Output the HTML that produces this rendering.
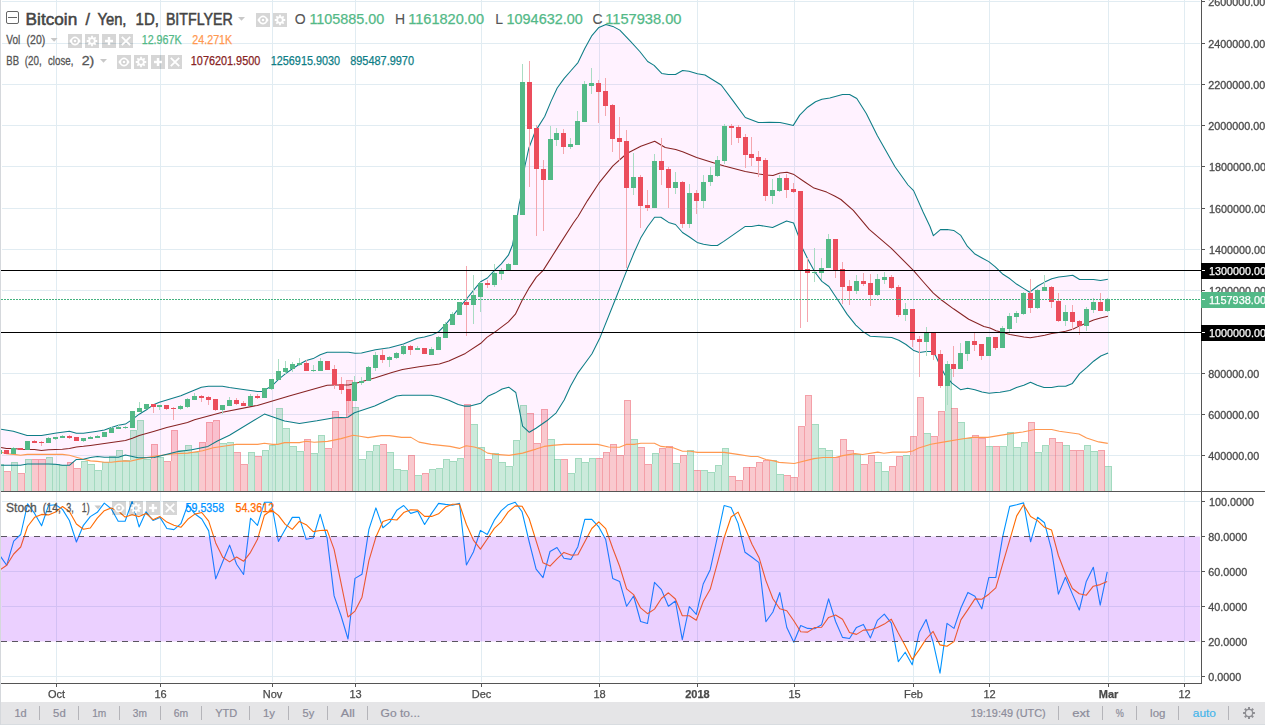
<!DOCTYPE html>
<html><head><meta charset="utf-8"><title>BTCJPY chart</title>
<style>html,body{margin:0;padding:0;background:#fff}body{width:1265px;height:725px;overflow:hidden;font-family:"Liberation Sans",sans-serif}svg{display:block}</style></head>
<body>
<svg width="1265" height="725" viewBox="0 0 1265 725" font-family="Liberation Sans, sans-serif">
<rect x="0" y="0" width="1265" height="725" fill="#ffffff"/>
<g fill="#e1ecf2" shape-rendering="crispEdges">
<rect x="2" y="1" width="1198" height="1"/>
<rect x="2" y="43" width="1198" height="1"/>
<rect x="2" y="84" width="1198" height="1"/>
<rect x="2" y="125" width="1198" height="1"/>
<rect x="2" y="166" width="1198" height="1"/>
<rect x="2" y="208" width="1198" height="1"/>
<rect x="2" y="249" width="1198" height="1"/>
<rect x="2" y="290" width="1198" height="1"/>
<rect x="2" y="332" width="1198" height="1"/>
<rect x="2" y="373" width="1198" height="1"/>
<rect x="2" y="414" width="1198" height="1"/>
<rect x="2" y="455" width="1198" height="1"/>
<rect x="2" y="501" width="1198" height="1"/>
<rect x="2" y="571" width="1198" height="1"/>
<rect x="2" y="606" width="1198" height="1"/>
<rect x="2" y="676" width="1198" height="1"/>
<rect x="56" y="0" width="1" height="491"/>
<rect x="56" y="492" width="1" height="190"/>
<rect x="160" y="0" width="1" height="491"/>
<rect x="160" y="492" width="1" height="190"/>
<rect x="272" y="0" width="1" height="491"/>
<rect x="272" y="492" width="1" height="190"/>
<rect x="355" y="0" width="1" height="491"/>
<rect x="355" y="492" width="1" height="190"/>
<rect x="481" y="0" width="1" height="491"/>
<rect x="481" y="492" width="1" height="190"/>
<rect x="599" y="0" width="1" height="491"/>
<rect x="599" y="492" width="1" height="190"/>
<rect x="697" y="0" width="1" height="491"/>
<rect x="697" y="492" width="1" height="190"/>
<rect x="794" y="0" width="1" height="491"/>
<rect x="794" y="492" width="1" height="190"/>
<rect x="913" y="0" width="1" height="491"/>
<rect x="913" y="492" width="1" height="190"/>
<rect x="989" y="0" width="1" height="491"/>
<rect x="989" y="492" width="1" height="190"/>
<rect x="1108" y="0" width="1" height="491"/>
<rect x="1108" y="492" width="1" height="190"/>
<rect x="1184" y="0" width="1" height="491"/>
<rect x="1184" y="492" width="1" height="190"/>
</g>
<polygon fill="#ff00ff" fill-opacity="0.052" points="1.1,429.3 13.3,431.2 27.1,435.4 41.5,435.4 56.4,433.0 69.4,431.3 76.4,433.2 83.4,433.2 97.4,431.2 104.4,430.1 111.3,427.4 118.4,425.2 125.4,424.1 132.4,419.4 139.2,414.2 146.5,409.8 153.5,404.7 159.4,402.2 180.8,395.8 194.7,390.1 201.4,387.2 208.4,386.3 222.4,386.3 229.4,387.6 243.3,389.5 257.3,391.4 262.0,391.4 271.5,386.3 278.5,379.3 285.3,373.9 292.4,368.8 299.3,364.3 306.3,360.5 313.2,358.6 320.2,354.8 327.2,352.3 348.5,352.3 355.1,353.3 361.5,352.9 375.4,349.7 389.4,347.8 403.4,344.0 417.4,338.3 424.4,337.1 431.7,335.1 438.7,331.7 445.6,324.7 452.6,316.1 459.6,307.2 466.5,299.0 473.5,290.4 480.6,281.8 487.4,278.0 494.5,270.4 501.3,263.8 508.4,255.2 512.6,244.7 516.4,222.8 519.2,203.8 520.2,200.0 524.8,166.5 528.8,148.3 535.1,131.7 537.5,127.9 544.7,116.5 551.0,101.4 557.2,88.0 564.2,78.4 571.1,70.5 578.0,62.6 584.9,48.3 591.9,35.6 598.9,27.4 605.9,24.5 612.9,26.4 619.8,30.1 630.3,41.2 639.8,51.5 647.7,61.5 654.1,65.4 661.7,73.4 668.4,74.5 675.5,74.5 682.6,70.5 689.0,71.3 697.4,73.7 705.0,75.0 721.2,85.0 733.1,100.9 745.3,117.5 758.4,122.6 769.5,122.3 780.0,122.6 787.0,123.9 793.3,125.4 799.7,115.1 807.6,107.2 815.5,101.7 821.9,99.3 829.8,98.0 842.5,94.5 849.6,94.5 856.8,98.5 866.3,113.5 877.4,135.8 895.0,166.7 908.0,185.0 913.6,190.6 923.1,212.0 930.0,226.5 933.4,235.7 940.4,229.6 947.2,229.6 953.7,230.4 960.8,235.4 967.3,246.2 974.5,253.7 981.6,257.7 988.8,261.6 995.3,266.8 998.4,269.8 1003.0,274.3 1010.0,278.8 1016.9,284.3 1023.9,288.6 1029.7,292.2 1037.8,286.0 1044.7,282.1 1051.8,278.8 1058.7,277.1 1065.6,276.2 1072.7,275.2 1079.6,279.5 1086.5,279.5 1093.6,279.5 1100.5,280.4 1107.9,279.3 1108.1,353.1 1100.8,356.0 1093.6,361.2 1086.9,367.4 1079.6,373.6 1072.4,383.4 1065.7,386.3 1058.4,386.3 1051.7,387.4 1044.0,387.4 1037.2,385.2 1030.5,382.2 1023.8,385.2 1016.5,387.6 1009.8,390.4 1000.0,392.2 996.0,392.6 989.1,393.3 982.0,392.1 974.9,389.7 967.7,388.3 960.5,389.7 951.9,383.2 944.7,374.6 940.3,366.0 935.4,355.3 931.1,351.4 926.4,351.4 919.4,352.4 913.2,350.2 906.0,344.5 898.8,340.2 891.7,337.6 870.2,336.2 863.0,331.6 855.8,325.1 847.2,314.4 837.5,299.5 828.9,286.5 821.9,281.4 815.0,272.2 808.0,259.5 802.6,248.4 797.8,234.2 793.6,223.0 786.6,221.1 779.6,224.3 772.6,227.4 758.7,225.3 751.7,226.4 745.3,226.4 723.8,241.4 717.4,245.5 711.1,245.5 703.5,244.3 697.1,242.4 689.5,237.0 682.5,232.5 675.5,224.5 668.6,222.4 660.9,217.3 654.6,217.3 647.6,226.8 640.7,238.1 633.8,253.3 626.8,270.4 615.3,299.5 600.1,337.4 592.0,353.8 584.5,364.0 577.6,373.4 570.6,386.0 564.2,400.0 556.2,412.8 546.8,420.8 536.0,428.2 529.3,432.3 522.6,426.2 520.5,415.6 515.8,392.5 508.7,387.2 502.1,389.0 495.0,393.1 487.9,396.3 480.8,403.2 470.1,406.1 464.2,406.1 458.3,404.4 448.8,400.2 439.3,396.9 431.0,395.2 402.5,395.2 396.6,396.1 387.1,400.2 374.7,406.0 354.5,412.8 347.8,417.2 334.4,417.7 316.9,420.8 299.4,423.5 284.6,421.1 264.4,414.1 229.5,435.2 217.4,441.0 208.0,446.4 191.8,449.7 177.0,451.7 164.9,454.8 154.2,457.4 138.1,457.8 132.4,456.4 125.4,455.1 118.4,457.3 104.4,457.3 97.4,456.4 90.4,457.5 83.4,459.2 76.4,459.4 69.4,465.3 62.4,465.3 55.4,464.2 48.5,464.0 27.4,464.0 20.5,465.3 1.1,465.3"/>
<g shape-rendering="crispEdges">
<rect x="1" y="464" width="3" height="27" fill="#53b987" fill-opacity="0.3"/>
<rect x="1" y="464" width="3" height="1" fill="#53b987" fill-opacity="0.33"/>
<rect x="3" y="465" width="1" height="26" fill="#53b987" fill-opacity="0.33"/>
<rect x="4" y="471" width="7" height="20" fill="#eb4d5c" fill-opacity="0.3"/>
<rect x="4" y="471" width="7" height="1" fill="#eb4d5c" fill-opacity="0.33"/>
<rect x="10" y="472" width="1" height="19" fill="#eb4d5c" fill-opacity="0.33"/>
<rect x="11" y="462" width="7" height="29" fill="#53b987" fill-opacity="0.3"/>
<rect x="11" y="462" width="7" height="1" fill="#53b987" fill-opacity="0.33"/>
<rect x="17" y="463" width="1" height="28" fill="#53b987" fill-opacity="0.33"/>
<rect x="11" y="463" width="1" height="8" fill="#53b987" fill-opacity="0.33"/>
<rect x="18" y="473" width="7" height="18" fill="#eb4d5c" fill-opacity="0.3"/>
<rect x="18" y="473" width="7" height="1" fill="#eb4d5c" fill-opacity="0.33"/>
<rect x="24" y="474" width="1" height="17" fill="#eb4d5c" fill-opacity="0.33"/>
<rect x="25" y="459" width="7" height="32" fill="#53b987" fill-opacity="0.3"/>
<rect x="25" y="459" width="7" height="1" fill="#53b987" fill-opacity="0.33"/>
<rect x="31" y="460" width="1" height="31" fill="#53b987" fill-opacity="0.33"/>
<rect x="25" y="460" width="1" height="13" fill="#53b987" fill-opacity="0.33"/>
<rect x="32" y="459" width="7" height="32" fill="#eb4d5c" fill-opacity="0.3"/>
<rect x="32" y="459" width="7" height="1" fill="#eb4d5c" fill-opacity="0.33"/>
<rect x="38" y="460" width="1" height="31" fill="#eb4d5c" fill-opacity="0.33"/>
<rect x="39" y="459" width="7" height="32" fill="#eb4d5c" fill-opacity="0.3"/>
<rect x="39" y="459" width="7" height="1" fill="#eb4d5c" fill-opacity="0.33"/>
<rect x="45" y="460" width="1" height="31" fill="#eb4d5c" fill-opacity="0.33"/>
<rect x="46" y="457" width="7" height="34" fill="#53b987" fill-opacity="0.3"/>
<rect x="46" y="457" width="7" height="1" fill="#53b987" fill-opacity="0.33"/>
<rect x="52" y="458" width="1" height="33" fill="#53b987" fill-opacity="0.33"/>
<rect x="46" y="458" width="1" height="1" fill="#53b987" fill-opacity="0.33"/>
<rect x="53" y="464" width="7" height="27" fill="#53b987" fill-opacity="0.3"/>
<rect x="53" y="464" width="7" height="1" fill="#53b987" fill-opacity="0.33"/>
<rect x="59" y="465" width="1" height="26" fill="#53b987" fill-opacity="0.33"/>
<rect x="60" y="465" width="7" height="26" fill="#53b987" fill-opacity="0.3"/>
<rect x="60" y="465" width="7" height="1" fill="#53b987" fill-opacity="0.33"/>
<rect x="66" y="466" width="1" height="25" fill="#53b987" fill-opacity="0.33"/>
<rect x="67" y="462" width="7" height="29" fill="#eb4d5c" fill-opacity="0.3"/>
<rect x="67" y="462" width="7" height="1" fill="#eb4d5c" fill-opacity="0.33"/>
<rect x="73" y="463" width="1" height="28" fill="#eb4d5c" fill-opacity="0.33"/>
<rect x="67" y="463" width="1" height="2" fill="#eb4d5c" fill-opacity="0.33"/>
<rect x="74" y="468" width="7" height="23" fill="#eb4d5c" fill-opacity="0.3"/>
<rect x="74" y="468" width="7" height="1" fill="#eb4d5c" fill-opacity="0.33"/>
<rect x="80" y="469" width="1" height="22" fill="#eb4d5c" fill-opacity="0.33"/>
<rect x="81" y="461" width="7" height="30" fill="#53b987" fill-opacity="0.3"/>
<rect x="81" y="461" width="7" height="1" fill="#53b987" fill-opacity="0.33"/>
<rect x="87" y="462" width="1" height="29" fill="#53b987" fill-opacity="0.33"/>
<rect x="81" y="462" width="1" height="6" fill="#53b987" fill-opacity="0.33"/>
<rect x="88" y="464" width="7" height="27" fill="#53b987" fill-opacity="0.3"/>
<rect x="88" y="464" width="7" height="1" fill="#53b987" fill-opacity="0.33"/>
<rect x="94" y="465" width="1" height="26" fill="#53b987" fill-opacity="0.33"/>
<rect x="95" y="470" width="7" height="21" fill="#53b987" fill-opacity="0.3"/>
<rect x="95" y="470" width="7" height="1" fill="#53b987" fill-opacity="0.33"/>
<rect x="101" y="471" width="1" height="20" fill="#53b987" fill-opacity="0.33"/>
<rect x="102" y="462" width="7" height="29" fill="#53b987" fill-opacity="0.3"/>
<rect x="102" y="462" width="7" height="1" fill="#53b987" fill-opacity="0.33"/>
<rect x="108" y="463" width="1" height="28" fill="#53b987" fill-opacity="0.33"/>
<rect x="102" y="463" width="1" height="7" fill="#53b987" fill-opacity="0.33"/>
<rect x="109" y="456" width="7" height="35" fill="#53b987" fill-opacity="0.3"/>
<rect x="109" y="456" width="7" height="1" fill="#53b987" fill-opacity="0.33"/>
<rect x="115" y="457" width="1" height="34" fill="#53b987" fill-opacity="0.33"/>
<rect x="109" y="457" width="1" height="5" fill="#53b987" fill-opacity="0.33"/>
<rect x="116" y="450" width="7" height="41" fill="#53b987" fill-opacity="0.3"/>
<rect x="116" y="450" width="7" height="1" fill="#53b987" fill-opacity="0.33"/>
<rect x="122" y="451" width="1" height="40" fill="#53b987" fill-opacity="0.33"/>
<rect x="116" y="451" width="1" height="5" fill="#53b987" fill-opacity="0.33"/>
<rect x="123" y="460" width="7" height="31" fill="#53b987" fill-opacity="0.3"/>
<rect x="123" y="460" width="7" height="1" fill="#53b987" fill-opacity="0.33"/>
<rect x="129" y="461" width="1" height="30" fill="#53b987" fill-opacity="0.33"/>
<rect x="130" y="430" width="7" height="61" fill="#53b987" fill-opacity="0.3"/>
<rect x="130" y="430" width="7" height="1" fill="#53b987" fill-opacity="0.33"/>
<rect x="136" y="431" width="1" height="60" fill="#53b987" fill-opacity="0.33"/>
<rect x="130" y="431" width="1" height="29" fill="#53b987" fill-opacity="0.33"/>
<rect x="137" y="420" width="7" height="71" fill="#53b987" fill-opacity="0.3"/>
<rect x="137" y="420" width="7" height="1" fill="#53b987" fill-opacity="0.33"/>
<rect x="143" y="421" width="1" height="70" fill="#53b987" fill-opacity="0.33"/>
<rect x="137" y="421" width="1" height="9" fill="#53b987" fill-opacity="0.33"/>
<rect x="144" y="459" width="7" height="32" fill="#53b987" fill-opacity="0.3"/>
<rect x="144" y="459" width="7" height="1" fill="#53b987" fill-opacity="0.33"/>
<rect x="150" y="460" width="1" height="31" fill="#53b987" fill-opacity="0.33"/>
<rect x="151" y="444" width="7" height="47" fill="#eb4d5c" fill-opacity="0.3"/>
<rect x="151" y="444" width="7" height="1" fill="#eb4d5c" fill-opacity="0.33"/>
<rect x="157" y="445" width="1" height="46" fill="#eb4d5c" fill-opacity="0.33"/>
<rect x="151" y="445" width="1" height="14" fill="#eb4d5c" fill-opacity="0.33"/>
<rect x="157" y="457" width="7" height="34" fill="#53b987" fill-opacity="0.3"/>
<rect x="157" y="457" width="7" height="1" fill="#53b987" fill-opacity="0.33"/>
<rect x="163" y="458" width="1" height="33" fill="#53b987" fill-opacity="0.33"/>
<rect x="164" y="461" width="7" height="30" fill="#eb4d5c" fill-opacity="0.3"/>
<rect x="164" y="461" width="7" height="1" fill="#eb4d5c" fill-opacity="0.33"/>
<rect x="170" y="462" width="1" height="29" fill="#eb4d5c" fill-opacity="0.33"/>
<rect x="171" y="430" width="7" height="61" fill="#eb4d5c" fill-opacity="0.3"/>
<rect x="171" y="430" width="7" height="1" fill="#eb4d5c" fill-opacity="0.33"/>
<rect x="177" y="431" width="1" height="60" fill="#eb4d5c" fill-opacity="0.33"/>
<rect x="171" y="431" width="1" height="30" fill="#eb4d5c" fill-opacity="0.33"/>
<rect x="178" y="450" width="7" height="41" fill="#53b987" fill-opacity="0.3"/>
<rect x="178" y="450" width="7" height="1" fill="#53b987" fill-opacity="0.33"/>
<rect x="184" y="451" width="1" height="40" fill="#53b987" fill-opacity="0.33"/>
<rect x="185" y="445" width="7" height="46" fill="#53b987" fill-opacity="0.3"/>
<rect x="185" y="445" width="7" height="1" fill="#53b987" fill-opacity="0.33"/>
<rect x="191" y="446" width="1" height="45" fill="#53b987" fill-opacity="0.33"/>
<rect x="185" y="446" width="1" height="4" fill="#53b987" fill-opacity="0.33"/>
<rect x="192" y="452" width="7" height="39" fill="#53b987" fill-opacity="0.3"/>
<rect x="192" y="452" width="7" height="1" fill="#53b987" fill-opacity="0.33"/>
<rect x="198" y="453" width="1" height="38" fill="#53b987" fill-opacity="0.33"/>
<rect x="199" y="442" width="7" height="49" fill="#eb4d5c" fill-opacity="0.3"/>
<rect x="199" y="442" width="7" height="1" fill="#eb4d5c" fill-opacity="0.33"/>
<rect x="205" y="443" width="1" height="48" fill="#eb4d5c" fill-opacity="0.33"/>
<rect x="199" y="443" width="1" height="9" fill="#eb4d5c" fill-opacity="0.33"/>
<rect x="206" y="422" width="7" height="69" fill="#eb4d5c" fill-opacity="0.3"/>
<rect x="206" y="422" width="7" height="1" fill="#eb4d5c" fill-opacity="0.33"/>
<rect x="212" y="423" width="1" height="68" fill="#eb4d5c" fill-opacity="0.33"/>
<rect x="206" y="423" width="1" height="19" fill="#eb4d5c" fill-opacity="0.33"/>
<rect x="213" y="420" width="7" height="71" fill="#eb4d5c" fill-opacity="0.3"/>
<rect x="213" y="420" width="7" height="1" fill="#eb4d5c" fill-opacity="0.33"/>
<rect x="219" y="421" width="1" height="70" fill="#eb4d5c" fill-opacity="0.33"/>
<rect x="213" y="421" width="1" height="1" fill="#eb4d5c" fill-opacity="0.33"/>
<rect x="220" y="443" width="7" height="48" fill="#53b987" fill-opacity="0.3"/>
<rect x="220" y="443" width="7" height="1" fill="#53b987" fill-opacity="0.33"/>
<rect x="226" y="444" width="1" height="47" fill="#53b987" fill-opacity="0.33"/>
<rect x="227" y="442" width="7" height="49" fill="#53b987" fill-opacity="0.3"/>
<rect x="227" y="442" width="7" height="1" fill="#53b987" fill-opacity="0.33"/>
<rect x="233" y="443" width="1" height="48" fill="#53b987" fill-opacity="0.33"/>
<rect x="234" y="452" width="7" height="39" fill="#eb4d5c" fill-opacity="0.3"/>
<rect x="234" y="452" width="7" height="1" fill="#eb4d5c" fill-opacity="0.33"/>
<rect x="240" y="453" width="1" height="38" fill="#eb4d5c" fill-opacity="0.33"/>
<rect x="241" y="464" width="7" height="27" fill="#eb4d5c" fill-opacity="0.3"/>
<rect x="241" y="464" width="7" height="1" fill="#eb4d5c" fill-opacity="0.33"/>
<rect x="247" y="465" width="1" height="26" fill="#eb4d5c" fill-opacity="0.33"/>
<rect x="248" y="452" width="7" height="39" fill="#53b987" fill-opacity="0.3"/>
<rect x="248" y="452" width="7" height="1" fill="#53b987" fill-opacity="0.33"/>
<rect x="254" y="453" width="1" height="38" fill="#53b987" fill-opacity="0.33"/>
<rect x="248" y="453" width="1" height="11" fill="#53b987" fill-opacity="0.33"/>
<rect x="255" y="456" width="7" height="35" fill="#eb4d5c" fill-opacity="0.3"/>
<rect x="255" y="456" width="7" height="1" fill="#eb4d5c" fill-opacity="0.33"/>
<rect x="261" y="457" width="1" height="34" fill="#eb4d5c" fill-opacity="0.33"/>
<rect x="262" y="450" width="7" height="41" fill="#53b987" fill-opacity="0.3"/>
<rect x="262" y="450" width="7" height="1" fill="#53b987" fill-opacity="0.33"/>
<rect x="268" y="451" width="1" height="40" fill="#53b987" fill-opacity="0.33"/>
<rect x="262" y="451" width="1" height="5" fill="#53b987" fill-opacity="0.33"/>
<rect x="269" y="445" width="7" height="46" fill="#53b987" fill-opacity="0.3"/>
<rect x="269" y="445" width="7" height="1" fill="#53b987" fill-opacity="0.33"/>
<rect x="275" y="446" width="1" height="45" fill="#53b987" fill-opacity="0.33"/>
<rect x="269" y="446" width="1" height="4" fill="#53b987" fill-opacity="0.33"/>
<rect x="276" y="408" width="7" height="83" fill="#53b987" fill-opacity="0.3"/>
<rect x="276" y="408" width="7" height="1" fill="#53b987" fill-opacity="0.33"/>
<rect x="282" y="409" width="1" height="82" fill="#53b987" fill-opacity="0.33"/>
<rect x="276" y="409" width="1" height="36" fill="#53b987" fill-opacity="0.33"/>
<rect x="283" y="428" width="7" height="63" fill="#53b987" fill-opacity="0.3"/>
<rect x="283" y="428" width="7" height="1" fill="#53b987" fill-opacity="0.33"/>
<rect x="289" y="429" width="1" height="62" fill="#53b987" fill-opacity="0.33"/>
<rect x="290" y="446" width="7" height="45" fill="#53b987" fill-opacity="0.3"/>
<rect x="290" y="446" width="7" height="1" fill="#53b987" fill-opacity="0.33"/>
<rect x="296" y="447" width="1" height="44" fill="#53b987" fill-opacity="0.33"/>
<rect x="297" y="451" width="7" height="40" fill="#53b987" fill-opacity="0.3"/>
<rect x="297" y="451" width="7" height="1" fill="#53b987" fill-opacity="0.33"/>
<rect x="303" y="452" width="1" height="39" fill="#53b987" fill-opacity="0.33"/>
<rect x="304" y="439" width="7" height="52" fill="#eb4d5c" fill-opacity="0.3"/>
<rect x="304" y="439" width="7" height="1" fill="#eb4d5c" fill-opacity="0.33"/>
<rect x="310" y="440" width="1" height="51" fill="#eb4d5c" fill-opacity="0.33"/>
<rect x="304" y="440" width="1" height="11" fill="#eb4d5c" fill-opacity="0.33"/>
<rect x="311" y="453" width="7" height="38" fill="#53b987" fill-opacity="0.3"/>
<rect x="311" y="453" width="7" height="1" fill="#53b987" fill-opacity="0.33"/>
<rect x="317" y="454" width="1" height="37" fill="#53b987" fill-opacity="0.33"/>
<rect x="318" y="435" width="7" height="56" fill="#53b987" fill-opacity="0.3"/>
<rect x="318" y="435" width="7" height="1" fill="#53b987" fill-opacity="0.33"/>
<rect x="324" y="436" width="1" height="55" fill="#53b987" fill-opacity="0.33"/>
<rect x="318" y="436" width="1" height="17" fill="#53b987" fill-opacity="0.33"/>
<rect x="325" y="448" width="7" height="43" fill="#eb4d5c" fill-opacity="0.3"/>
<rect x="325" y="448" width="7" height="1" fill="#eb4d5c" fill-opacity="0.33"/>
<rect x="331" y="449" width="1" height="42" fill="#eb4d5c" fill-opacity="0.33"/>
<rect x="332" y="411" width="7" height="80" fill="#eb4d5c" fill-opacity="0.3"/>
<rect x="332" y="411" width="7" height="1" fill="#eb4d5c" fill-opacity="0.33"/>
<rect x="338" y="412" width="1" height="79" fill="#eb4d5c" fill-opacity="0.33"/>
<rect x="332" y="412" width="1" height="36" fill="#eb4d5c" fill-opacity="0.33"/>
<rect x="339" y="418" width="7" height="73" fill="#eb4d5c" fill-opacity="0.3"/>
<rect x="339" y="418" width="7" height="1" fill="#eb4d5c" fill-opacity="0.33"/>
<rect x="345" y="419" width="1" height="72" fill="#eb4d5c" fill-opacity="0.33"/>
<rect x="346" y="380" width="7" height="111" fill="#eb4d5c" fill-opacity="0.3"/>
<rect x="346" y="380" width="7" height="1" fill="#eb4d5c" fill-opacity="0.33"/>
<rect x="352" y="381" width="1" height="110" fill="#eb4d5c" fill-opacity="0.33"/>
<rect x="346" y="381" width="1" height="37" fill="#eb4d5c" fill-opacity="0.33"/>
<rect x="352" y="407" width="7" height="84" fill="#53b987" fill-opacity="0.3"/>
<rect x="352" y="407" width="7" height="1" fill="#53b987" fill-opacity="0.33"/>
<rect x="358" y="408" width="1" height="83" fill="#53b987" fill-opacity="0.33"/>
<rect x="359" y="459" width="7" height="32" fill="#53b987" fill-opacity="0.3"/>
<rect x="359" y="459" width="7" height="1" fill="#53b987" fill-opacity="0.33"/>
<rect x="365" y="460" width="1" height="31" fill="#53b987" fill-opacity="0.33"/>
<rect x="366" y="451" width="7" height="40" fill="#53b987" fill-opacity="0.3"/>
<rect x="366" y="451" width="7" height="1" fill="#53b987" fill-opacity="0.33"/>
<rect x="372" y="452" width="1" height="39" fill="#53b987" fill-opacity="0.33"/>
<rect x="366" y="452" width="1" height="7" fill="#53b987" fill-opacity="0.33"/>
<rect x="373" y="445" width="7" height="46" fill="#53b987" fill-opacity="0.3"/>
<rect x="373" y="445" width="7" height="1" fill="#53b987" fill-opacity="0.33"/>
<rect x="379" y="446" width="1" height="45" fill="#53b987" fill-opacity="0.33"/>
<rect x="373" y="446" width="1" height="5" fill="#53b987" fill-opacity="0.33"/>
<rect x="380" y="444" width="7" height="47" fill="#eb4d5c" fill-opacity="0.3"/>
<rect x="380" y="444" width="7" height="1" fill="#eb4d5c" fill-opacity="0.33"/>
<rect x="386" y="445" width="1" height="46" fill="#eb4d5c" fill-opacity="0.33"/>
<rect x="387" y="452" width="7" height="39" fill="#53b987" fill-opacity="0.3"/>
<rect x="387" y="452" width="7" height="1" fill="#53b987" fill-opacity="0.33"/>
<rect x="393" y="453" width="1" height="38" fill="#53b987" fill-opacity="0.33"/>
<rect x="394" y="469" width="7" height="22" fill="#53b987" fill-opacity="0.3"/>
<rect x="394" y="469" width="7" height="1" fill="#53b987" fill-opacity="0.33"/>
<rect x="400" y="470" width="1" height="21" fill="#53b987" fill-opacity="0.33"/>
<rect x="401" y="470" width="7" height="21" fill="#53b987" fill-opacity="0.3"/>
<rect x="401" y="470" width="7" height="1" fill="#53b987" fill-opacity="0.33"/>
<rect x="407" y="471" width="1" height="20" fill="#53b987" fill-opacity="0.33"/>
<rect x="408" y="455" width="7" height="36" fill="#eb4d5c" fill-opacity="0.3"/>
<rect x="408" y="455" width="7" height="1" fill="#eb4d5c" fill-opacity="0.33"/>
<rect x="414" y="456" width="1" height="35" fill="#eb4d5c" fill-opacity="0.33"/>
<rect x="408" y="456" width="1" height="14" fill="#eb4d5c" fill-opacity="0.33"/>
<rect x="415" y="475" width="7" height="16" fill="#53b987" fill-opacity="0.3"/>
<rect x="415" y="475" width="7" height="1" fill="#53b987" fill-opacity="0.33"/>
<rect x="421" y="476" width="1" height="15" fill="#53b987" fill-opacity="0.33"/>
<rect x="422" y="473" width="7" height="18" fill="#eb4d5c" fill-opacity="0.3"/>
<rect x="422" y="473" width="7" height="1" fill="#eb4d5c" fill-opacity="0.33"/>
<rect x="428" y="474" width="1" height="17" fill="#eb4d5c" fill-opacity="0.33"/>
<rect x="422" y="474" width="1" height="1" fill="#eb4d5c" fill-opacity="0.33"/>
<rect x="429" y="469" width="7" height="22" fill="#53b987" fill-opacity="0.3"/>
<rect x="429" y="469" width="7" height="1" fill="#53b987" fill-opacity="0.33"/>
<rect x="435" y="470" width="1" height="21" fill="#53b987" fill-opacity="0.33"/>
<rect x="429" y="470" width="1" height="3" fill="#53b987" fill-opacity="0.33"/>
<rect x="436" y="468" width="7" height="23" fill="#53b987" fill-opacity="0.3"/>
<rect x="436" y="468" width="7" height="1" fill="#53b987" fill-opacity="0.33"/>
<rect x="442" y="469" width="1" height="22" fill="#53b987" fill-opacity="0.33"/>
<rect x="443" y="459" width="7" height="32" fill="#53b987" fill-opacity="0.3"/>
<rect x="443" y="459" width="7" height="1" fill="#53b987" fill-opacity="0.33"/>
<rect x="449" y="460" width="1" height="31" fill="#53b987" fill-opacity="0.33"/>
<rect x="443" y="460" width="1" height="8" fill="#53b987" fill-opacity="0.33"/>
<rect x="450" y="461" width="7" height="30" fill="#53b987" fill-opacity="0.3"/>
<rect x="450" y="461" width="7" height="1" fill="#53b987" fill-opacity="0.33"/>
<rect x="456" y="462" width="1" height="29" fill="#53b987" fill-opacity="0.33"/>
<rect x="457" y="458" width="7" height="33" fill="#53b987" fill-opacity="0.3"/>
<rect x="457" y="458" width="7" height="1" fill="#53b987" fill-opacity="0.33"/>
<rect x="463" y="459" width="1" height="32" fill="#53b987" fill-opacity="0.33"/>
<rect x="457" y="459" width="1" height="2" fill="#53b987" fill-opacity="0.33"/>
<rect x="464" y="404" width="7" height="87" fill="#eb4d5c" fill-opacity="0.3"/>
<rect x="464" y="404" width="7" height="1" fill="#eb4d5c" fill-opacity="0.33"/>
<rect x="470" y="405" width="1" height="86" fill="#eb4d5c" fill-opacity="0.33"/>
<rect x="464" y="405" width="1" height="53" fill="#eb4d5c" fill-opacity="0.33"/>
<rect x="471" y="424" width="7" height="67" fill="#53b987" fill-opacity="0.3"/>
<rect x="471" y="424" width="7" height="1" fill="#53b987" fill-opacity="0.33"/>
<rect x="477" y="425" width="1" height="66" fill="#53b987" fill-opacity="0.33"/>
<rect x="478" y="447" width="7" height="44" fill="#53b987" fill-opacity="0.3"/>
<rect x="478" y="447" width="7" height="1" fill="#53b987" fill-opacity="0.33"/>
<rect x="484" y="448" width="1" height="43" fill="#53b987" fill-opacity="0.33"/>
<rect x="485" y="459" width="7" height="32" fill="#eb4d5c" fill-opacity="0.3"/>
<rect x="485" y="459" width="7" height="1" fill="#eb4d5c" fill-opacity="0.33"/>
<rect x="491" y="460" width="1" height="31" fill="#eb4d5c" fill-opacity="0.33"/>
<rect x="492" y="453" width="7" height="38" fill="#53b987" fill-opacity="0.3"/>
<rect x="492" y="453" width="7" height="1" fill="#53b987" fill-opacity="0.33"/>
<rect x="498" y="454" width="1" height="37" fill="#53b987" fill-opacity="0.33"/>
<rect x="492" y="454" width="1" height="5" fill="#53b987" fill-opacity="0.33"/>
<rect x="499" y="462" width="7" height="29" fill="#53b987" fill-opacity="0.3"/>
<rect x="499" y="462" width="7" height="1" fill="#53b987" fill-opacity="0.33"/>
<rect x="505" y="463" width="1" height="28" fill="#53b987" fill-opacity="0.33"/>
<rect x="506" y="466" width="7" height="25" fill="#53b987" fill-opacity="0.3"/>
<rect x="506" y="466" width="7" height="1" fill="#53b987" fill-opacity="0.33"/>
<rect x="512" y="467" width="1" height="24" fill="#53b987" fill-opacity="0.33"/>
<rect x="513" y="440" width="7" height="51" fill="#53b987" fill-opacity="0.3"/>
<rect x="513" y="440" width="7" height="1" fill="#53b987" fill-opacity="0.33"/>
<rect x="519" y="441" width="1" height="50" fill="#53b987" fill-opacity="0.33"/>
<rect x="513" y="441" width="1" height="25" fill="#53b987" fill-opacity="0.33"/>
<rect x="520" y="405" width="7" height="86" fill="#53b987" fill-opacity="0.3"/>
<rect x="520" y="405" width="7" height="1" fill="#53b987" fill-opacity="0.33"/>
<rect x="526" y="406" width="1" height="85" fill="#53b987" fill-opacity="0.33"/>
<rect x="520" y="406" width="1" height="34" fill="#53b987" fill-opacity="0.33"/>
<rect x="527" y="413" width="7" height="78" fill="#eb4d5c" fill-opacity="0.3"/>
<rect x="527" y="413" width="7" height="1" fill="#eb4d5c" fill-opacity="0.33"/>
<rect x="533" y="414" width="1" height="77" fill="#eb4d5c" fill-opacity="0.33"/>
<rect x="534" y="443" width="7" height="48" fill="#eb4d5c" fill-opacity="0.3"/>
<rect x="534" y="443" width="7" height="1" fill="#eb4d5c" fill-opacity="0.33"/>
<rect x="540" y="444" width="1" height="47" fill="#eb4d5c" fill-opacity="0.33"/>
<rect x="541" y="409" width="7" height="82" fill="#eb4d5c" fill-opacity="0.3"/>
<rect x="541" y="409" width="7" height="1" fill="#eb4d5c" fill-opacity="0.33"/>
<rect x="547" y="410" width="1" height="81" fill="#eb4d5c" fill-opacity="0.33"/>
<rect x="541" y="410" width="1" height="33" fill="#eb4d5c" fill-opacity="0.33"/>
<rect x="548" y="439" width="7" height="52" fill="#53b987" fill-opacity="0.3"/>
<rect x="548" y="439" width="7" height="1" fill="#53b987" fill-opacity="0.33"/>
<rect x="554" y="440" width="1" height="51" fill="#53b987" fill-opacity="0.33"/>
<rect x="554" y="459" width="7" height="32" fill="#53b987" fill-opacity="0.3"/>
<rect x="554" y="459" width="7" height="1" fill="#53b987" fill-opacity="0.33"/>
<rect x="560" y="460" width="1" height="31" fill="#53b987" fill-opacity="0.33"/>
<rect x="561" y="459" width="7" height="32" fill="#eb4d5c" fill-opacity="0.3"/>
<rect x="561" y="459" width="7" height="1" fill="#eb4d5c" fill-opacity="0.33"/>
<rect x="567" y="460" width="1" height="31" fill="#eb4d5c" fill-opacity="0.33"/>
<rect x="568" y="473" width="7" height="18" fill="#53b987" fill-opacity="0.3"/>
<rect x="568" y="473" width="7" height="1" fill="#53b987" fill-opacity="0.33"/>
<rect x="574" y="474" width="1" height="17" fill="#53b987" fill-opacity="0.33"/>
<rect x="575" y="458" width="7" height="33" fill="#53b987" fill-opacity="0.3"/>
<rect x="575" y="458" width="7" height="1" fill="#53b987" fill-opacity="0.33"/>
<rect x="581" y="459" width="1" height="32" fill="#53b987" fill-opacity="0.33"/>
<rect x="575" y="459" width="1" height="14" fill="#53b987" fill-opacity="0.33"/>
<rect x="582" y="462" width="7" height="29" fill="#53b987" fill-opacity="0.3"/>
<rect x="582" y="462" width="7" height="1" fill="#53b987" fill-opacity="0.33"/>
<rect x="588" y="463" width="1" height="28" fill="#53b987" fill-opacity="0.33"/>
<rect x="589" y="458" width="7" height="33" fill="#53b987" fill-opacity="0.3"/>
<rect x="589" y="458" width="7" height="1" fill="#53b987" fill-opacity="0.33"/>
<rect x="595" y="459" width="1" height="32" fill="#53b987" fill-opacity="0.33"/>
<rect x="589" y="459" width="1" height="3" fill="#53b987" fill-opacity="0.33"/>
<rect x="596" y="458" width="7" height="33" fill="#eb4d5c" fill-opacity="0.3"/>
<rect x="596" y="458" width="7" height="1" fill="#eb4d5c" fill-opacity="0.33"/>
<rect x="602" y="459" width="1" height="32" fill="#eb4d5c" fill-opacity="0.33"/>
<rect x="603" y="452" width="7" height="39" fill="#eb4d5c" fill-opacity="0.3"/>
<rect x="603" y="452" width="7" height="1" fill="#eb4d5c" fill-opacity="0.33"/>
<rect x="609" y="453" width="1" height="38" fill="#eb4d5c" fill-opacity="0.33"/>
<rect x="603" y="453" width="1" height="5" fill="#eb4d5c" fill-opacity="0.33"/>
<rect x="610" y="444" width="7" height="47" fill="#eb4d5c" fill-opacity="0.3"/>
<rect x="610" y="444" width="7" height="1" fill="#eb4d5c" fill-opacity="0.33"/>
<rect x="616" y="445" width="1" height="46" fill="#eb4d5c" fill-opacity="0.33"/>
<rect x="610" y="445" width="1" height="7" fill="#eb4d5c" fill-opacity="0.33"/>
<rect x="617" y="455" width="7" height="36" fill="#eb4d5c" fill-opacity="0.3"/>
<rect x="617" y="455" width="7" height="1" fill="#eb4d5c" fill-opacity="0.33"/>
<rect x="623" y="456" width="1" height="35" fill="#eb4d5c" fill-opacity="0.33"/>
<rect x="624" y="400" width="7" height="91" fill="#eb4d5c" fill-opacity="0.3"/>
<rect x="624" y="400" width="7" height="1" fill="#eb4d5c" fill-opacity="0.33"/>
<rect x="630" y="401" width="1" height="90" fill="#eb4d5c" fill-opacity="0.33"/>
<rect x="624" y="401" width="1" height="54" fill="#eb4d5c" fill-opacity="0.33"/>
<rect x="631" y="439" width="7" height="52" fill="#53b987" fill-opacity="0.3"/>
<rect x="631" y="439" width="7" height="1" fill="#53b987" fill-opacity="0.33"/>
<rect x="637" y="440" width="1" height="51" fill="#53b987" fill-opacity="0.33"/>
<rect x="638" y="447" width="7" height="44" fill="#eb4d5c" fill-opacity="0.3"/>
<rect x="638" y="447" width="7" height="1" fill="#eb4d5c" fill-opacity="0.33"/>
<rect x="644" y="448" width="1" height="43" fill="#eb4d5c" fill-opacity="0.33"/>
<rect x="645" y="464" width="7" height="27" fill="#eb4d5c" fill-opacity="0.3"/>
<rect x="645" y="464" width="7" height="1" fill="#eb4d5c" fill-opacity="0.33"/>
<rect x="651" y="465" width="1" height="26" fill="#eb4d5c" fill-opacity="0.33"/>
<rect x="652" y="453" width="7" height="38" fill="#53b987" fill-opacity="0.3"/>
<rect x="652" y="453" width="7" height="1" fill="#53b987" fill-opacity="0.33"/>
<rect x="658" y="454" width="1" height="37" fill="#53b987" fill-opacity="0.33"/>
<rect x="652" y="454" width="1" height="10" fill="#53b987" fill-opacity="0.33"/>
<rect x="659" y="448" width="7" height="43" fill="#eb4d5c" fill-opacity="0.3"/>
<rect x="659" y="448" width="7" height="1" fill="#eb4d5c" fill-opacity="0.33"/>
<rect x="665" y="449" width="1" height="42" fill="#eb4d5c" fill-opacity="0.33"/>
<rect x="659" y="449" width="1" height="4" fill="#eb4d5c" fill-opacity="0.33"/>
<rect x="666" y="446" width="7" height="45" fill="#eb4d5c" fill-opacity="0.3"/>
<rect x="666" y="446" width="7" height="1" fill="#eb4d5c" fill-opacity="0.33"/>
<rect x="672" y="447" width="1" height="44" fill="#eb4d5c" fill-opacity="0.33"/>
<rect x="666" y="447" width="1" height="1" fill="#eb4d5c" fill-opacity="0.33"/>
<rect x="673" y="463" width="7" height="28" fill="#53b987" fill-opacity="0.3"/>
<rect x="673" y="463" width="7" height="1" fill="#53b987" fill-opacity="0.33"/>
<rect x="679" y="464" width="1" height="27" fill="#53b987" fill-opacity="0.33"/>
<rect x="680" y="455" width="7" height="36" fill="#eb4d5c" fill-opacity="0.3"/>
<rect x="680" y="455" width="7" height="1" fill="#eb4d5c" fill-opacity="0.33"/>
<rect x="686" y="456" width="1" height="35" fill="#eb4d5c" fill-opacity="0.33"/>
<rect x="680" y="456" width="1" height="7" fill="#eb4d5c" fill-opacity="0.33"/>
<rect x="687" y="450" width="7" height="41" fill="#53b987" fill-opacity="0.3"/>
<rect x="687" y="450" width="7" height="1" fill="#53b987" fill-opacity="0.33"/>
<rect x="693" y="451" width="1" height="40" fill="#53b987" fill-opacity="0.33"/>
<rect x="687" y="451" width="1" height="4" fill="#53b987" fill-opacity="0.33"/>
<rect x="694" y="470" width="7" height="21" fill="#eb4d5c" fill-opacity="0.3"/>
<rect x="694" y="470" width="7" height="1" fill="#eb4d5c" fill-opacity="0.33"/>
<rect x="700" y="471" width="1" height="20" fill="#eb4d5c" fill-opacity="0.33"/>
<rect x="701" y="470" width="7" height="21" fill="#53b987" fill-opacity="0.3"/>
<rect x="701" y="470" width="7" height="1" fill="#53b987" fill-opacity="0.33"/>
<rect x="707" y="471" width="1" height="20" fill="#53b987" fill-opacity="0.33"/>
<rect x="708" y="472" width="7" height="19" fill="#53b987" fill-opacity="0.3"/>
<rect x="708" y="472" width="7" height="1" fill="#53b987" fill-opacity="0.33"/>
<rect x="714" y="473" width="1" height="18" fill="#53b987" fill-opacity="0.33"/>
<rect x="715" y="465" width="7" height="26" fill="#53b987" fill-opacity="0.3"/>
<rect x="715" y="465" width="7" height="1" fill="#53b987" fill-opacity="0.33"/>
<rect x="721" y="466" width="1" height="25" fill="#53b987" fill-opacity="0.33"/>
<rect x="715" y="466" width="1" height="6" fill="#53b987" fill-opacity="0.33"/>
<rect x="722" y="448" width="7" height="43" fill="#53b987" fill-opacity="0.3"/>
<rect x="722" y="448" width="7" height="1" fill="#53b987" fill-opacity="0.33"/>
<rect x="728" y="449" width="1" height="42" fill="#53b987" fill-opacity="0.33"/>
<rect x="722" y="449" width="1" height="16" fill="#53b987" fill-opacity="0.33"/>
<rect x="729" y="476" width="7" height="15" fill="#eb4d5c" fill-opacity="0.3"/>
<rect x="729" y="476" width="7" height="1" fill="#eb4d5c" fill-opacity="0.33"/>
<rect x="735" y="477" width="1" height="14" fill="#eb4d5c" fill-opacity="0.33"/>
<rect x="736" y="480" width="7" height="11" fill="#eb4d5c" fill-opacity="0.3"/>
<rect x="736" y="480" width="7" height="1" fill="#eb4d5c" fill-opacity="0.33"/>
<rect x="742" y="481" width="1" height="10" fill="#eb4d5c" fill-opacity="0.33"/>
<rect x="743" y="467" width="7" height="24" fill="#eb4d5c" fill-opacity="0.3"/>
<rect x="743" y="467" width="7" height="1" fill="#eb4d5c" fill-opacity="0.33"/>
<rect x="749" y="468" width="1" height="23" fill="#eb4d5c" fill-opacity="0.33"/>
<rect x="743" y="468" width="1" height="12" fill="#eb4d5c" fill-opacity="0.33"/>
<rect x="749" y="467" width="7" height="24" fill="#eb4d5c" fill-opacity="0.3"/>
<rect x="749" y="467" width="7" height="1" fill="#eb4d5c" fill-opacity="0.33"/>
<rect x="755" y="468" width="1" height="23" fill="#eb4d5c" fill-opacity="0.33"/>
<rect x="756" y="462" width="7" height="29" fill="#eb4d5c" fill-opacity="0.3"/>
<rect x="756" y="462" width="7" height="1" fill="#eb4d5c" fill-opacity="0.33"/>
<rect x="762" y="463" width="1" height="28" fill="#eb4d5c" fill-opacity="0.33"/>
<rect x="756" y="463" width="1" height="4" fill="#eb4d5c" fill-opacity="0.33"/>
<rect x="763" y="460" width="7" height="31" fill="#eb4d5c" fill-opacity="0.3"/>
<rect x="763" y="460" width="7" height="1" fill="#eb4d5c" fill-opacity="0.33"/>
<rect x="769" y="461" width="1" height="30" fill="#eb4d5c" fill-opacity="0.33"/>
<rect x="763" y="461" width="1" height="1" fill="#eb4d5c" fill-opacity="0.33"/>
<rect x="770" y="460" width="7" height="31" fill="#53b987" fill-opacity="0.3"/>
<rect x="770" y="460" width="7" height="1" fill="#53b987" fill-opacity="0.33"/>
<rect x="776" y="461" width="1" height="30" fill="#53b987" fill-opacity="0.33"/>
<rect x="777" y="474" width="7" height="17" fill="#53b987" fill-opacity="0.3"/>
<rect x="777" y="474" width="7" height="1" fill="#53b987" fill-opacity="0.33"/>
<rect x="783" y="475" width="1" height="16" fill="#53b987" fill-opacity="0.33"/>
<rect x="784" y="475" width="7" height="16" fill="#eb4d5c" fill-opacity="0.3"/>
<rect x="784" y="475" width="7" height="1" fill="#eb4d5c" fill-opacity="0.33"/>
<rect x="790" y="476" width="1" height="15" fill="#eb4d5c" fill-opacity="0.33"/>
<rect x="791" y="477" width="7" height="14" fill="#eb4d5c" fill-opacity="0.3"/>
<rect x="791" y="477" width="7" height="1" fill="#eb4d5c" fill-opacity="0.33"/>
<rect x="797" y="478" width="1" height="13" fill="#eb4d5c" fill-opacity="0.33"/>
<rect x="798" y="426" width="7" height="65" fill="#eb4d5c" fill-opacity="0.3"/>
<rect x="798" y="426" width="7" height="1" fill="#eb4d5c" fill-opacity="0.33"/>
<rect x="804" y="427" width="1" height="64" fill="#eb4d5c" fill-opacity="0.33"/>
<rect x="798" y="427" width="1" height="50" fill="#eb4d5c" fill-opacity="0.33"/>
<rect x="805" y="395" width="7" height="96" fill="#eb4d5c" fill-opacity="0.3"/>
<rect x="805" y="395" width="7" height="1" fill="#eb4d5c" fill-opacity="0.33"/>
<rect x="811" y="396" width="1" height="95" fill="#eb4d5c" fill-opacity="0.33"/>
<rect x="805" y="396" width="1" height="30" fill="#eb4d5c" fill-opacity="0.33"/>
<rect x="812" y="424" width="7" height="67" fill="#53b987" fill-opacity="0.3"/>
<rect x="812" y="424" width="7" height="1" fill="#53b987" fill-opacity="0.33"/>
<rect x="818" y="425" width="1" height="66" fill="#53b987" fill-opacity="0.33"/>
<rect x="819" y="448" width="7" height="43" fill="#53b987" fill-opacity="0.3"/>
<rect x="819" y="448" width="7" height="1" fill="#53b987" fill-opacity="0.33"/>
<rect x="825" y="449" width="1" height="42" fill="#53b987" fill-opacity="0.33"/>
<rect x="826" y="450" width="7" height="41" fill="#53b987" fill-opacity="0.3"/>
<rect x="826" y="450" width="7" height="1" fill="#53b987" fill-opacity="0.33"/>
<rect x="832" y="451" width="1" height="40" fill="#53b987" fill-opacity="0.33"/>
<rect x="833" y="457" width="7" height="34" fill="#eb4d5c" fill-opacity="0.3"/>
<rect x="833" y="457" width="7" height="1" fill="#eb4d5c" fill-opacity="0.33"/>
<rect x="839" y="458" width="1" height="33" fill="#eb4d5c" fill-opacity="0.33"/>
<rect x="840" y="439" width="7" height="52" fill="#eb4d5c" fill-opacity="0.3"/>
<rect x="840" y="439" width="7" height="1" fill="#eb4d5c" fill-opacity="0.33"/>
<rect x="846" y="440" width="1" height="51" fill="#eb4d5c" fill-opacity="0.33"/>
<rect x="840" y="440" width="1" height="17" fill="#eb4d5c" fill-opacity="0.33"/>
<rect x="847" y="450" width="7" height="41" fill="#eb4d5c" fill-opacity="0.3"/>
<rect x="847" y="450" width="7" height="1" fill="#eb4d5c" fill-opacity="0.33"/>
<rect x="853" y="451" width="1" height="40" fill="#eb4d5c" fill-opacity="0.33"/>
<rect x="854" y="454" width="7" height="37" fill="#53b987" fill-opacity="0.3"/>
<rect x="854" y="454" width="7" height="1" fill="#53b987" fill-opacity="0.33"/>
<rect x="860" y="455" width="1" height="36" fill="#53b987" fill-opacity="0.33"/>
<rect x="861" y="464" width="7" height="27" fill="#eb4d5c" fill-opacity="0.3"/>
<rect x="861" y="464" width="7" height="1" fill="#eb4d5c" fill-opacity="0.33"/>
<rect x="867" y="465" width="1" height="26" fill="#eb4d5c" fill-opacity="0.33"/>
<rect x="868" y="455" width="7" height="36" fill="#eb4d5c" fill-opacity="0.3"/>
<rect x="868" y="455" width="7" height="1" fill="#eb4d5c" fill-opacity="0.33"/>
<rect x="874" y="456" width="1" height="35" fill="#eb4d5c" fill-opacity="0.33"/>
<rect x="868" y="456" width="1" height="8" fill="#eb4d5c" fill-opacity="0.33"/>
<rect x="875" y="462" width="7" height="29" fill="#53b987" fill-opacity="0.3"/>
<rect x="875" y="462" width="7" height="1" fill="#53b987" fill-opacity="0.33"/>
<rect x="881" y="463" width="1" height="28" fill="#53b987" fill-opacity="0.33"/>
<rect x="882" y="471" width="7" height="20" fill="#53b987" fill-opacity="0.3"/>
<rect x="882" y="471" width="7" height="1" fill="#53b987" fill-opacity="0.33"/>
<rect x="888" y="472" width="1" height="19" fill="#53b987" fill-opacity="0.33"/>
<rect x="889" y="466" width="7" height="25" fill="#eb4d5c" fill-opacity="0.3"/>
<rect x="889" y="466" width="7" height="1" fill="#eb4d5c" fill-opacity="0.33"/>
<rect x="895" y="467" width="1" height="24" fill="#eb4d5c" fill-opacity="0.33"/>
<rect x="889" y="467" width="1" height="4" fill="#eb4d5c" fill-opacity="0.33"/>
<rect x="896" y="456" width="7" height="35" fill="#eb4d5c" fill-opacity="0.3"/>
<rect x="896" y="456" width="7" height="1" fill="#eb4d5c" fill-opacity="0.33"/>
<rect x="902" y="457" width="1" height="34" fill="#eb4d5c" fill-opacity="0.33"/>
<rect x="896" y="457" width="1" height="9" fill="#eb4d5c" fill-opacity="0.33"/>
<rect x="903" y="455" width="7" height="36" fill="#53b987" fill-opacity="0.3"/>
<rect x="903" y="455" width="7" height="1" fill="#53b987" fill-opacity="0.33"/>
<rect x="909" y="456" width="1" height="35" fill="#53b987" fill-opacity="0.33"/>
<rect x="910" y="436" width="7" height="55" fill="#eb4d5c" fill-opacity="0.3"/>
<rect x="910" y="436" width="7" height="1" fill="#eb4d5c" fill-opacity="0.33"/>
<rect x="916" y="437" width="1" height="54" fill="#eb4d5c" fill-opacity="0.33"/>
<rect x="910" y="437" width="1" height="18" fill="#eb4d5c" fill-opacity="0.33"/>
<rect x="917" y="397" width="7" height="94" fill="#eb4d5c" fill-opacity="0.3"/>
<rect x="917" y="397" width="7" height="1" fill="#eb4d5c" fill-opacity="0.33"/>
<rect x="923" y="398" width="1" height="93" fill="#eb4d5c" fill-opacity="0.33"/>
<rect x="917" y="398" width="1" height="38" fill="#eb4d5c" fill-opacity="0.33"/>
<rect x="924" y="433" width="7" height="58" fill="#53b987" fill-opacity="0.3"/>
<rect x="924" y="433" width="7" height="1" fill="#53b987" fill-opacity="0.33"/>
<rect x="930" y="434" width="1" height="57" fill="#53b987" fill-opacity="0.33"/>
<rect x="931" y="436" width="7" height="55" fill="#eb4d5c" fill-opacity="0.3"/>
<rect x="931" y="436" width="7" height="1" fill="#eb4d5c" fill-opacity="0.33"/>
<rect x="937" y="437" width="1" height="54" fill="#eb4d5c" fill-opacity="0.33"/>
<rect x="938" y="411" width="7" height="80" fill="#eb4d5c" fill-opacity="0.3"/>
<rect x="938" y="411" width="7" height="1" fill="#eb4d5c" fill-opacity="0.33"/>
<rect x="944" y="412" width="1" height="79" fill="#eb4d5c" fill-opacity="0.33"/>
<rect x="938" y="412" width="1" height="24" fill="#eb4d5c" fill-opacity="0.33"/>
<rect x="945" y="369" width="7" height="122" fill="#53b987" fill-opacity="0.3"/>
<rect x="945" y="369" width="7" height="1" fill="#53b987" fill-opacity="0.33"/>
<rect x="951" y="370" width="1" height="121" fill="#53b987" fill-opacity="0.33"/>
<rect x="945" y="370" width="1" height="41" fill="#53b987" fill-opacity="0.33"/>
<rect x="951" y="408" width="7" height="83" fill="#eb4d5c" fill-opacity="0.3"/>
<rect x="951" y="408" width="7" height="1" fill="#eb4d5c" fill-opacity="0.33"/>
<rect x="957" y="409" width="1" height="82" fill="#eb4d5c" fill-opacity="0.33"/>
<rect x="958" y="422" width="7" height="69" fill="#53b987" fill-opacity="0.3"/>
<rect x="958" y="422" width="7" height="1" fill="#53b987" fill-opacity="0.33"/>
<rect x="964" y="423" width="1" height="68" fill="#53b987" fill-opacity="0.33"/>
<rect x="965" y="438" width="7" height="53" fill="#53b987" fill-opacity="0.3"/>
<rect x="965" y="438" width="7" height="1" fill="#53b987" fill-opacity="0.33"/>
<rect x="971" y="439" width="1" height="52" fill="#53b987" fill-opacity="0.33"/>
<rect x="972" y="435" width="7" height="56" fill="#eb4d5c" fill-opacity="0.3"/>
<rect x="972" y="435" width="7" height="1" fill="#eb4d5c" fill-opacity="0.33"/>
<rect x="978" y="436" width="1" height="55" fill="#eb4d5c" fill-opacity="0.33"/>
<rect x="972" y="436" width="1" height="2" fill="#eb4d5c" fill-opacity="0.33"/>
<rect x="979" y="438" width="7" height="53" fill="#eb4d5c" fill-opacity="0.3"/>
<rect x="979" y="438" width="7" height="1" fill="#eb4d5c" fill-opacity="0.33"/>
<rect x="985" y="439" width="1" height="52" fill="#eb4d5c" fill-opacity="0.33"/>
<rect x="986" y="446" width="7" height="45" fill="#53b987" fill-opacity="0.3"/>
<rect x="986" y="446" width="7" height="1" fill="#53b987" fill-opacity="0.33"/>
<rect x="992" y="447" width="1" height="44" fill="#53b987" fill-opacity="0.33"/>
<rect x="993" y="446" width="7" height="45" fill="#eb4d5c" fill-opacity="0.3"/>
<rect x="993" y="446" width="7" height="1" fill="#eb4d5c" fill-opacity="0.33"/>
<rect x="999" y="447" width="1" height="44" fill="#eb4d5c" fill-opacity="0.33"/>
<rect x="1000" y="446" width="7" height="45" fill="#53b987" fill-opacity="0.3"/>
<rect x="1000" y="446" width="7" height="1" fill="#53b987" fill-opacity="0.33"/>
<rect x="1006" y="447" width="1" height="44" fill="#53b987" fill-opacity="0.33"/>
<rect x="1007" y="432" width="7" height="59" fill="#53b987" fill-opacity="0.3"/>
<rect x="1007" y="432" width="7" height="1" fill="#53b987" fill-opacity="0.33"/>
<rect x="1013" y="433" width="1" height="58" fill="#53b987" fill-opacity="0.33"/>
<rect x="1007" y="433" width="1" height="13" fill="#53b987" fill-opacity="0.33"/>
<rect x="1014" y="447" width="7" height="44" fill="#53b987" fill-opacity="0.3"/>
<rect x="1014" y="447" width="7" height="1" fill="#53b987" fill-opacity="0.33"/>
<rect x="1020" y="448" width="1" height="43" fill="#53b987" fill-opacity="0.33"/>
<rect x="1021" y="442" width="7" height="49" fill="#53b987" fill-opacity="0.3"/>
<rect x="1021" y="442" width="7" height="1" fill="#53b987" fill-opacity="0.33"/>
<rect x="1027" y="443" width="1" height="48" fill="#53b987" fill-opacity="0.33"/>
<rect x="1021" y="443" width="1" height="4" fill="#53b987" fill-opacity="0.33"/>
<rect x="1028" y="422" width="7" height="69" fill="#eb4d5c" fill-opacity="0.3"/>
<rect x="1028" y="422" width="7" height="1" fill="#eb4d5c" fill-opacity="0.33"/>
<rect x="1034" y="423" width="1" height="68" fill="#eb4d5c" fill-opacity="0.33"/>
<rect x="1028" y="423" width="1" height="19" fill="#eb4d5c" fill-opacity="0.33"/>
<rect x="1035" y="452" width="7" height="39" fill="#53b987" fill-opacity="0.3"/>
<rect x="1035" y="452" width="7" height="1" fill="#53b987" fill-opacity="0.33"/>
<rect x="1041" y="453" width="1" height="38" fill="#53b987" fill-opacity="0.33"/>
<rect x="1042" y="445" width="7" height="46" fill="#53b987" fill-opacity="0.3"/>
<rect x="1042" y="445" width="7" height="1" fill="#53b987" fill-opacity="0.33"/>
<rect x="1048" y="446" width="1" height="45" fill="#53b987" fill-opacity="0.33"/>
<rect x="1042" y="446" width="1" height="6" fill="#53b987" fill-opacity="0.33"/>
<rect x="1049" y="438" width="7" height="53" fill="#eb4d5c" fill-opacity="0.3"/>
<rect x="1049" y="438" width="7" height="1" fill="#eb4d5c" fill-opacity="0.33"/>
<rect x="1055" y="439" width="1" height="52" fill="#eb4d5c" fill-opacity="0.33"/>
<rect x="1049" y="439" width="1" height="6" fill="#eb4d5c" fill-opacity="0.33"/>
<rect x="1056" y="442" width="7" height="49" fill="#eb4d5c" fill-opacity="0.3"/>
<rect x="1056" y="442" width="7" height="1" fill="#eb4d5c" fill-opacity="0.33"/>
<rect x="1062" y="443" width="1" height="48" fill="#eb4d5c" fill-opacity="0.33"/>
<rect x="1063" y="445" width="7" height="46" fill="#53b987" fill-opacity="0.3"/>
<rect x="1063" y="445" width="7" height="1" fill="#53b987" fill-opacity="0.33"/>
<rect x="1069" y="446" width="1" height="45" fill="#53b987" fill-opacity="0.33"/>
<rect x="1070" y="450" width="7" height="41" fill="#eb4d5c" fill-opacity="0.3"/>
<rect x="1070" y="450" width="7" height="1" fill="#eb4d5c" fill-opacity="0.33"/>
<rect x="1076" y="451" width="1" height="40" fill="#eb4d5c" fill-opacity="0.33"/>
<rect x="1077" y="450" width="7" height="41" fill="#eb4d5c" fill-opacity="0.3"/>
<rect x="1077" y="450" width="7" height="1" fill="#eb4d5c" fill-opacity="0.33"/>
<rect x="1083" y="451" width="1" height="40" fill="#eb4d5c" fill-opacity="0.33"/>
<rect x="1084" y="445" width="7" height="46" fill="#53b987" fill-opacity="0.3"/>
<rect x="1084" y="445" width="7" height="1" fill="#53b987" fill-opacity="0.33"/>
<rect x="1090" y="446" width="1" height="45" fill="#53b987" fill-opacity="0.33"/>
<rect x="1084" y="446" width="1" height="4" fill="#53b987" fill-opacity="0.33"/>
<rect x="1091" y="451" width="7" height="40" fill="#53b987" fill-opacity="0.3"/>
<rect x="1091" y="451" width="7" height="1" fill="#53b987" fill-opacity="0.33"/>
<rect x="1097" y="452" width="1" height="39" fill="#53b987" fill-opacity="0.33"/>
<rect x="1098" y="450" width="7" height="41" fill="#eb4d5c" fill-opacity="0.3"/>
<rect x="1098" y="450" width="7" height="1" fill="#eb4d5c" fill-opacity="0.33"/>
<rect x="1104" y="451" width="1" height="40" fill="#eb4d5c" fill-opacity="0.33"/>
<rect x="1105" y="466" width="7" height="25" fill="#53b987" fill-opacity="0.3"/>
<rect x="1105" y="466" width="7" height="1" fill="#53b987" fill-opacity="0.33"/>
<rect x="1111" y="467" width="1" height="24" fill="#53b987" fill-opacity="0.33"/>
</g>
<polyline fill="none" stroke="#ff9850" stroke-width="1.1" stroke-linejoin="round"  points="1.1,452.0 6.4,453.7 13.5,454.4 20.5,455.3 27.4,454.4 34.4,454.2 62.4,454.4 69.4,455.3 76.4,457.3 83.4,459.2 90.4,460.9 97.4,461.4 104.4,462.2 111.3,462.2 118.4,461.4 125.4,460.9 130.0,461.2 143.4,458.1 157.6,455.8 174.4,453.8 187.8,453.1 202.6,450.8 213.3,447.7 226.8,445.7 236.2,444.4 257.7,444.4 264.4,443.3 272.5,444.4 277.8,444.4 284.6,442.6 299.4,442.6 306.1,441.3 314.2,442.3 327.6,441.4 341.1,438.6 353.2,435.3 359.9,436.3 368.0,437.6 381.4,435.6 389.5,435.6 401.6,437.4 411.0,437.4 419.0,442.1 431.1,444.4 450.0,446.4 459.4,448.4 466.1,445.7 474.2,447.0 480.9,449.1 487.6,453.1 495.7,454.4 509.1,455.4 522.6,453.1 536.0,449.1 544.1,446.4 552.2,445.4 564.2,444.4 597.8,444.4 608.6,447.0 619.4,447.3 626.1,444.4 634.2,444.4 640.9,443.3 654.4,443.3 661.1,446.4 673.2,447.7 682.6,451.3 690.6,451.3 697.4,452.4 724.2,452.4 737.7,454.4 751.1,456.5 757.8,456.5 765.9,459.5 774.0,460.9 779.1,462.4 794.3,463.5 814.0,458.6 823.1,457.5 835.3,457.5 842.8,455.6 855.0,453.6 862.6,454.5 877.8,452.1 883.8,453.3 892.9,452.1 906.6,452.1 912.7,451.0 918.7,448.0 930.9,444.2 944.5,441.9 960.0,439.3 972.8,437.4 987.9,437.4 1010.7,433.6 1022.8,432.0 1035.0,429.5 1051.7,429.5 1059.3,431.3 1079.0,434.0 1086.6,438.1 1098.7,441.9 1107.8,443.4"/>
<polyline fill="none" stroke="#0d7d86" stroke-width="1.05" stroke-linejoin="round"  points="1.1,429.3 13.3,431.2 27.1,435.4 41.5,435.4 56.4,433.0 69.4,431.3 76.4,433.2 83.4,433.2 97.4,431.2 104.4,430.1 111.3,427.4 118.4,425.2 125.4,424.1 132.4,419.4 139.2,414.2 146.5,409.8 153.5,404.7 159.4,402.2 180.8,395.8 194.7,390.1 201.4,387.2 208.4,386.3 222.4,386.3 229.4,387.6 243.3,389.5 257.3,391.4 262.0,391.4 271.5,386.3 278.5,379.3 285.3,373.9 292.4,368.8 299.3,364.3 306.3,360.5 313.2,358.6 320.2,354.8 327.2,352.3 348.5,352.3 355.1,353.3 361.5,352.9 375.4,349.7 389.4,347.8 403.4,344.0 417.4,338.3 424.4,337.1 431.7,335.1 438.7,331.7 445.6,324.7 452.6,316.1 459.6,307.2 466.5,299.0 473.5,290.4 480.6,281.8 487.4,278.0 494.5,270.4 501.3,263.8 508.4,255.2 512.6,244.7 516.4,222.8 519.2,203.8 520.2,200.0 524.8,166.5 528.8,148.3 535.1,131.7 537.5,127.9 544.7,116.5 551.0,101.4 557.2,88.0 564.2,78.4 571.1,70.5 578.0,62.6 584.9,48.3 591.9,35.6 598.9,27.4 605.9,24.5 612.9,26.4 619.8,30.1 630.3,41.2 639.8,51.5 647.7,61.5 654.1,65.4 661.7,73.4 668.4,74.5 675.5,74.5 682.6,70.5 689.0,71.3 697.4,73.7 705.0,75.0 721.2,85.0 733.1,100.9 745.3,117.5 758.4,122.6 769.5,122.3 780.0,122.6 787.0,123.9 793.3,125.4 799.7,115.1 807.6,107.2 815.5,101.7 821.9,99.3 829.8,98.0 842.5,94.5 849.6,94.5 856.8,98.5 866.3,113.5 877.4,135.8 895.0,166.7 908.0,185.0 913.6,190.6 923.1,212.0 930.0,226.5 933.4,235.7 940.4,229.6 947.2,229.6 953.7,230.4 960.8,235.4 967.3,246.2 974.5,253.7 981.6,257.7 988.8,261.6 995.3,266.8 998.4,269.8 1003.0,274.3 1010.0,278.8 1016.9,284.3 1023.9,288.6 1029.7,292.2 1037.8,286.0 1044.7,282.1 1051.8,278.8 1058.7,277.1 1065.6,276.2 1072.7,275.2 1079.6,279.5 1086.5,279.5 1093.6,279.5 1100.5,280.4 1107.9,279.3"/>
<polyline fill="none" stroke="#0d7d86" stroke-width="1.05" stroke-linejoin="round"  points="1.1,465.3 20.5,465.3 27.4,464.0 48.5,464.0 55.4,464.2 62.4,465.3 69.4,465.3 76.4,459.4 83.4,459.2 90.4,457.5 97.4,456.4 104.4,457.3 118.4,457.3 125.4,455.1 132.4,456.4 138.1,457.8 154.2,457.4 164.9,454.8 177.0,451.7 191.8,449.7 208.0,446.4 217.4,441.0 229.5,435.2 264.4,414.1 284.6,421.1 299.4,423.5 316.9,420.8 334.4,417.7 347.8,417.2 354.5,412.8 374.7,406.0 387.1,400.2 396.6,396.1 402.5,395.2 431.0,395.2 439.3,396.9 448.8,400.2 458.3,404.4 464.2,406.1 470.1,406.1 480.8,403.2 487.9,396.3 495.0,393.1 502.1,389.0 508.7,387.2 515.8,392.5 520.5,415.6 522.6,426.2 529.3,432.3 536.0,428.2 546.8,420.8 556.2,412.8 564.2,400.0 570.6,386.0 577.6,373.4 584.5,364.0 592.0,353.8 600.1,337.4 615.3,299.5 626.8,270.4 633.8,253.3 640.7,238.1 647.6,226.8 654.6,217.3 660.9,217.3 668.6,222.4 675.5,224.5 682.5,232.5 689.5,237.0 697.1,242.4 703.5,244.3 711.1,245.5 717.4,245.5 723.8,241.4 745.3,226.4 751.7,226.4 758.7,225.3 772.6,227.4 779.6,224.3 786.6,221.1 793.6,223.0 797.8,234.2 802.6,248.4 808.0,259.5 815.0,272.2 821.9,281.4 828.9,286.5 837.5,299.5 847.2,314.4 855.8,325.1 863.0,331.6 870.2,336.2 891.7,337.6 898.8,340.2 906.0,344.5 913.2,350.2 919.4,352.4 926.4,351.4 931.1,351.4 935.4,355.3 940.3,366.0 944.7,374.6 951.9,383.2 960.5,389.7 967.7,388.3 974.9,389.7 982.0,392.1 989.1,393.3 996.0,392.6 1000.0,392.2 1009.8,390.4 1016.5,387.6 1023.8,385.2 1030.5,382.2 1037.2,385.2 1044.0,387.4 1051.7,387.4 1058.4,386.3 1065.7,386.3 1072.4,383.4 1079.6,373.6 1086.9,367.4 1093.6,361.2 1100.8,356.0 1108.1,353.1"/>
<polyline fill="none" stroke="#872323" stroke-width="1.05" stroke-linejoin="round"  points="1.1,447.6 6.4,448.4 13.5,448.4 20.5,449.2 27.4,449.5 34.4,449.5 41.4,450.4 48.5,449.8 55.4,449.5 62.4,449.2 69.4,448.4 76.4,447.0 83.4,446.3 90.4,445.4 97.4,444.5 104.4,443.5 111.3,442.6 118.4,441.6 125.4,440.6 132.4,438.2 139.2,435.4 153.5,431.4 166.8,427.6 187.5,422.5 194.5,419.7 222.4,412.3 257.3,405.4 290.0,395.8 327.2,385.3 334.2,384.9 348.5,384.9 355.1,383.4 375.4,377.7 391.9,372.4 402.5,369.4 419.1,366.8 439.3,364.1 448.8,361.1 465.4,353.4 480.8,343.3 486.9,337.4 494.5,332.3 508.4,321.8 515.4,314.2 522.3,299.9 529.3,287.6 536.3,277.1 543.2,270.4 558.2,246.6 573.5,222.8 578.0,216.5 587.5,200.6 598.9,183.2 612.9,165.8 626.8,153.5 640.8,146.2 654.7,141.2 665.2,147.5 675.7,149.6 682.6,151.8 696.6,157.5 710.9,161.9 724.3,165.9 745.3,171.4 759.2,174.1 766.2,175.1 773.0,175.4 780.0,173.0 787.0,172.2 794.0,174.6 804.4,181.7 814.0,188.1 826.6,192.1 834.6,196.0 840.9,199.5 853.3,210.4 869.2,229.4 891.4,248.4 913.6,270.6 923.0,281.5 933.1,292.9 940.8,299.5 953.5,308.8 968.7,319.3 983.9,326.5 990.0,327.9 996.0,330.7 1003.0,332.6 1010.0,334.4 1016.9,335.7 1023.9,336.9 1030.2,337.8 1037.8,336.6 1044.7,335.2 1051.8,333.5 1058.7,332.4 1065.6,331.3 1072.7,329.3 1079.6,325.9 1086.5,322.9 1093.6,319.9 1100.5,317.9 1107.9,316.2"/>
<g shape-rendering="crispEdges">
<rect x="1" y="450" width="1" height="4" fill="#53b987"/>
<rect x="4" y="450" width="5" height="4" fill="#eb4d5c"/>
<rect x="13" y="447" width="1" height="7" fill="#a9dcc3"/>
<rect x="11" y="448" width="5" height="6" fill="#53b987"/>
<rect x="18" y="448" width="5" height="2" fill="#eb4d5c"/>
<rect x="25" y="441" width="5" height="9" fill="#53b987"/>
<rect x="34" y="440" width="1" height="3" fill="#f5a6ae"/>
<rect x="32" y="441" width="5" height="2" fill="#eb4d5c"/>
<rect x="41" y="441" width="1" height="5" fill="#f5a6ae"/>
<rect x="39" y="442" width="5" height="1" fill="#eb4d5c"/>
<rect x="48" y="437" width="1" height="6" fill="#a9dcc3"/>
<rect x="46" y="438" width="5" height="5" fill="#53b987"/>
<rect x="55" y="437" width="1" height="3" fill="#a9dcc3"/>
<rect x="53" y="437" width="5" height="2" fill="#53b987"/>
<rect x="62" y="435" width="1" height="3" fill="#a9dcc3"/>
<rect x="60" y="436" width="5" height="2" fill="#53b987"/>
<rect x="69" y="435" width="1" height="4" fill="#f5a6ae"/>
<rect x="67" y="436" width="5" height="2" fill="#eb4d5c"/>
<rect x="74" y="437" width="5" height="4" fill="#eb4d5c"/>
<rect x="83" y="438" width="1" height="4" fill="#a9dcc3"/>
<rect x="81" y="438" width="5" height="3" fill="#53b987"/>
<rect x="90" y="436" width="1" height="3" fill="#a9dcc3"/>
<rect x="88" y="437" width="5" height="2" fill="#53b987"/>
<rect x="97" y="435" width="1" height="3" fill="#a9dcc3"/>
<rect x="95" y="436" width="5" height="2" fill="#53b987"/>
<rect x="102" y="432" width="5" height="5" fill="#53b987"/>
<rect x="111" y="427" width="1" height="6" fill="#a9dcc3"/>
<rect x="109" y="428" width="5" height="5" fill="#53b987"/>
<rect x="118" y="424" width="1" height="5" fill="#a9dcc3"/>
<rect x="116" y="427" width="5" height="2" fill="#53b987"/>
<rect x="125" y="426" width="1" height="3" fill="#a9dcc3"/>
<rect x="123" y="427" width="5" height="1" fill="#53b987"/>
<rect x="130" y="411" width="5" height="17" fill="#53b987"/>
<rect x="139" y="402" width="1" height="10" fill="#a9dcc3"/>
<rect x="137" y="408" width="5" height="4" fill="#53b987"/>
<rect x="144" y="404" width="5" height="5" fill="#53b987"/>
<rect x="153" y="404" width="1" height="9" fill="#f5a6ae"/>
<rect x="151" y="404" width="5" height="3" fill="#eb4d5c"/>
<rect x="159" y="405" width="1" height="5" fill="#a9dcc3"/>
<rect x="157" y="405" width="5" height="2" fill="#53b987"/>
<rect x="166" y="405" width="1" height="5" fill="#f5a6ae"/>
<rect x="164" y="405" width="5" height="4" fill="#eb4d5c"/>
<rect x="173" y="407" width="1" height="13" fill="#f5a6ae"/>
<rect x="171" y="408" width="5" height="1" fill="#eb4d5c"/>
<rect x="180" y="405" width="1" height="5" fill="#a9dcc3"/>
<rect x="178" y="406" width="5" height="3" fill="#53b987"/>
<rect x="187" y="398" width="1" height="10" fill="#a9dcc3"/>
<rect x="185" y="399" width="5" height="8" fill="#53b987"/>
<rect x="194" y="393" width="1" height="7" fill="#a9dcc3"/>
<rect x="192" y="396" width="5" height="4" fill="#53b987"/>
<rect x="201" y="395" width="1" height="7" fill="#f5a6ae"/>
<rect x="199" y="396" width="5" height="2" fill="#eb4d5c"/>
<rect x="208" y="396" width="1" height="9" fill="#f5a6ae"/>
<rect x="206" y="397" width="5" height="3" fill="#eb4d5c"/>
<rect x="215" y="399" width="1" height="12" fill="#f5a6ae"/>
<rect x="213" y="399" width="5" height="11" fill="#eb4d5c"/>
<rect x="222" y="405" width="1" height="9" fill="#a9dcc3"/>
<rect x="220" y="405" width="5" height="5" fill="#53b987"/>
<rect x="229" y="397" width="1" height="9" fill="#a9dcc3"/>
<rect x="227" y="400" width="5" height="6" fill="#53b987"/>
<rect x="236" y="398" width="1" height="7" fill="#f5a6ae"/>
<rect x="234" y="400" width="5" height="4" fill="#eb4d5c"/>
<rect x="243" y="401" width="1" height="5" fill="#f5a6ae"/>
<rect x="241" y="403" width="5" height="3" fill="#eb4d5c"/>
<rect x="250" y="394" width="1" height="12" fill="#a9dcc3"/>
<rect x="248" y="396" width="5" height="10" fill="#53b987"/>
<rect x="257" y="394" width="1" height="5" fill="#f5a6ae"/>
<rect x="255" y="396" width="5" height="2" fill="#eb4d5c"/>
<rect x="262" y="388" width="5" height="10" fill="#53b987"/>
<rect x="271" y="379" width="1" height="11" fill="#a9dcc3"/>
<rect x="269" y="379" width="5" height="10" fill="#53b987"/>
<rect x="278" y="359" width="1" height="21" fill="#a9dcc3"/>
<rect x="276" y="371" width="5" height="9" fill="#53b987"/>
<rect x="285" y="361" width="1" height="13" fill="#a9dcc3"/>
<rect x="283" y="368" width="5" height="4" fill="#53b987"/>
<rect x="292" y="362" width="1" height="10" fill="#a9dcc3"/>
<rect x="290" y="364" width="5" height="5" fill="#53b987"/>
<rect x="299" y="358" width="1" height="8" fill="#a9dcc3"/>
<rect x="297" y="363" width="5" height="2" fill="#53b987"/>
<rect x="306" y="360" width="1" height="11" fill="#f5a6ae"/>
<rect x="304" y="363" width="5" height="8" fill="#eb4d5c"/>
<rect x="313" y="365" width="1" height="7" fill="#a9dcc3"/>
<rect x="311" y="370" width="5" height="1" fill="#53b987"/>
<rect x="320" y="358" width="1" height="13" fill="#a9dcc3"/>
<rect x="318" y="361" width="5" height="10" fill="#53b987"/>
<rect x="325" y="361" width="5" height="9" fill="#eb4d5c"/>
<rect x="334" y="365" width="1" height="24" fill="#f5a6ae"/>
<rect x="332" y="369" width="5" height="16" fill="#eb4d5c"/>
<rect x="341" y="377" width="1" height="17" fill="#f5a6ae"/>
<rect x="339" y="384" width="5" height="6" fill="#eb4d5c"/>
<rect x="348" y="389" width="1" height="24" fill="#f5a6ae"/>
<rect x="346" y="389" width="5" height="12" fill="#eb4d5c"/>
<rect x="354" y="376" width="1" height="25" fill="#a9dcc3"/>
<rect x="352" y="382" width="5" height="19" fill="#53b987"/>
<rect x="361" y="377" width="1" height="8" fill="#a9dcc3"/>
<rect x="359" y="381" width="5" height="2" fill="#53b987"/>
<rect x="368" y="366" width="1" height="15" fill="#a9dcc3"/>
<rect x="366" y="367" width="5" height="14" fill="#53b987"/>
<rect x="375" y="352" width="1" height="19" fill="#a9dcc3"/>
<rect x="373" y="355" width="5" height="13" fill="#53b987"/>
<rect x="382" y="349" width="1" height="14" fill="#f5a6ae"/>
<rect x="380" y="355" width="5" height="5" fill="#eb4d5c"/>
<rect x="389" y="356" width="1" height="11" fill="#a9dcc3"/>
<rect x="387" y="357" width="5" height="3" fill="#53b987"/>
<rect x="396" y="352" width="1" height="7" fill="#a9dcc3"/>
<rect x="394" y="353" width="5" height="5" fill="#53b987"/>
<rect x="403" y="345" width="1" height="10" fill="#a9dcc3"/>
<rect x="401" y="346" width="5" height="8" fill="#53b987"/>
<rect x="410" y="345" width="1" height="10" fill="#f5a6ae"/>
<rect x="408" y="346" width="5" height="4" fill="#eb4d5c"/>
<rect x="417" y="346" width="1" height="4" fill="#a9dcc3"/>
<rect x="415" y="348" width="5" height="2" fill="#53b987"/>
<rect x="422" y="348" width="5" height="6" fill="#eb4d5c"/>
<rect x="431" y="347" width="1" height="8" fill="#a9dcc3"/>
<rect x="429" y="349" width="5" height="6" fill="#53b987"/>
<rect x="438" y="336" width="1" height="14" fill="#a9dcc3"/>
<rect x="436" y="337" width="5" height="13" fill="#53b987"/>
<rect x="445" y="322" width="1" height="16" fill="#a9dcc3"/>
<rect x="443" y="324" width="5" height="14" fill="#53b987"/>
<rect x="452" y="312" width="1" height="13" fill="#a9dcc3"/>
<rect x="450" y="314" width="5" height="11" fill="#53b987"/>
<rect x="457" y="302" width="5" height="13" fill="#53b987"/>
<rect x="466" y="266" width="1" height="70" fill="#f5a6ae"/>
<rect x="464" y="302" width="5" height="3" fill="#eb4d5c"/>
<rect x="473" y="275" width="1" height="49" fill="#a9dcc3"/>
<rect x="471" y="295" width="5" height="10" fill="#53b987"/>
<rect x="480" y="282" width="1" height="30" fill="#a9dcc3"/>
<rect x="478" y="283" width="5" height="14" fill="#53b987"/>
<rect x="487" y="280" width="1" height="8" fill="#f5a6ae"/>
<rect x="485" y="283" width="5" height="2" fill="#eb4d5c"/>
<rect x="494" y="264" width="1" height="23" fill="#a9dcc3"/>
<rect x="492" y="273" width="5" height="12" fill="#53b987"/>
<rect x="501" y="268" width="1" height="12" fill="#a9dcc3"/>
<rect x="499" y="270" width="5" height="4" fill="#53b987"/>
<rect x="508" y="263" width="1" height="7" fill="#a9dcc3"/>
<rect x="506" y="264" width="5" height="6" fill="#53b987"/>
<rect x="513" y="215" width="5" height="50" fill="#53b987"/>
<rect x="522" y="64" width="1" height="151" fill="#a9dcc3"/>
<rect x="520" y="82" width="5" height="133" fill="#53b987"/>
<rect x="529" y="61" width="1" height="126" fill="#f5a6ae"/>
<rect x="527" y="82" width="5" height="47" fill="#eb4d5c"/>
<rect x="536" y="125" width="1" height="111" fill="#f5a6ae"/>
<rect x="534" y="128" width="5" height="41" fill="#eb4d5c"/>
<rect x="543" y="160" width="1" height="71" fill="#f5a6ae"/>
<rect x="541" y="169" width="5" height="11" fill="#eb4d5c"/>
<rect x="550" y="126" width="1" height="54" fill="#a9dcc3"/>
<rect x="548" y="139" width="5" height="41" fill="#53b987"/>
<rect x="556" y="128" width="1" height="18" fill="#a9dcc3"/>
<rect x="554" y="133" width="5" height="7" fill="#53b987"/>
<rect x="563" y="129" width="1" height="25" fill="#f5a6ae"/>
<rect x="561" y="133" width="5" height="14" fill="#eb4d5c"/>
<rect x="570" y="138" width="1" height="11" fill="#a9dcc3"/>
<rect x="568" y="144" width="5" height="3" fill="#53b987"/>
<rect x="577" y="111" width="1" height="34" fill="#a9dcc3"/>
<rect x="575" y="121" width="5" height="24" fill="#53b987"/>
<rect x="584" y="81" width="1" height="41" fill="#a9dcc3"/>
<rect x="582" y="84" width="5" height="38" fill="#53b987"/>
<rect x="591" y="68" width="1" height="26" fill="#a9dcc3"/>
<rect x="589" y="83" width="5" height="3" fill="#53b987"/>
<rect x="598" y="80" width="1" height="43" fill="#f5a6ae"/>
<rect x="596" y="83" width="5" height="9" fill="#eb4d5c"/>
<rect x="605" y="78" width="1" height="38" fill="#f5a6ae"/>
<rect x="603" y="91" width="5" height="15" fill="#eb4d5c"/>
<rect x="612" y="104" width="1" height="48" fill="#f5a6ae"/>
<rect x="610" y="105" width="5" height="34" fill="#eb4d5c"/>
<rect x="619" y="117" width="1" height="44" fill="#f5a6ae"/>
<rect x="617" y="138" width="5" height="4" fill="#eb4d5c"/>
<rect x="626" y="130" width="1" height="138" fill="#f5a6ae"/>
<rect x="624" y="141" width="5" height="47" fill="#eb4d5c"/>
<rect x="633" y="153" width="1" height="42" fill="#a9dcc3"/>
<rect x="631" y="177" width="5" height="11" fill="#53b987"/>
<rect x="640" y="175" width="1" height="53" fill="#f5a6ae"/>
<rect x="638" y="177" width="5" height="29" fill="#eb4d5c"/>
<rect x="647" y="190" width="1" height="21" fill="#f5a6ae"/>
<rect x="645" y="205" width="5" height="3" fill="#eb4d5c"/>
<rect x="654" y="154" width="1" height="54" fill="#a9dcc3"/>
<rect x="652" y="161" width="5" height="47" fill="#53b987"/>
<rect x="661" y="138" width="1" height="47" fill="#f5a6ae"/>
<rect x="659" y="161" width="5" height="9" fill="#eb4d5c"/>
<rect x="668" y="167" width="1" height="41" fill="#f5a6ae"/>
<rect x="666" y="169" width="5" height="19" fill="#eb4d5c"/>
<rect x="675" y="172" width="1" height="22" fill="#a9dcc3"/>
<rect x="673" y="182" width="5" height="6" fill="#53b987"/>
<rect x="682" y="181" width="1" height="47" fill="#f5a6ae"/>
<rect x="680" y="182" width="5" height="42" fill="#eb4d5c"/>
<rect x="689" y="184" width="1" height="44" fill="#a9dcc3"/>
<rect x="687" y="193" width="5" height="31" fill="#53b987"/>
<rect x="696" y="190" width="1" height="24" fill="#f5a6ae"/>
<rect x="694" y="193" width="5" height="8" fill="#eb4d5c"/>
<rect x="703" y="175" width="1" height="33" fill="#a9dcc3"/>
<rect x="701" y="182" width="5" height="19" fill="#53b987"/>
<rect x="710" y="167" width="1" height="19" fill="#a9dcc3"/>
<rect x="708" y="175" width="5" height="7" fill="#53b987"/>
<rect x="717" y="156" width="1" height="21" fill="#a9dcc3"/>
<rect x="715" y="160" width="5" height="16" fill="#53b987"/>
<rect x="724" y="124" width="1" height="40" fill="#a9dcc3"/>
<rect x="722" y="126" width="5" height="35" fill="#53b987"/>
<rect x="731" y="124" width="1" height="21" fill="#f5a6ae"/>
<rect x="729" y="126" width="5" height="2" fill="#eb4d5c"/>
<rect x="738" y="125" width="1" height="18" fill="#f5a6ae"/>
<rect x="736" y="127" width="5" height="11" fill="#eb4d5c"/>
<rect x="745" y="134" width="1" height="34" fill="#f5a6ae"/>
<rect x="743" y="137" width="5" height="18" fill="#eb4d5c"/>
<rect x="751" y="137" width="1" height="29" fill="#f5a6ae"/>
<rect x="749" y="154" width="5" height="4" fill="#eb4d5c"/>
<rect x="758" y="151" width="1" height="26" fill="#f5a6ae"/>
<rect x="756" y="157" width="5" height="4" fill="#eb4d5c"/>
<rect x="765" y="158" width="1" height="43" fill="#f5a6ae"/>
<rect x="763" y="160" width="5" height="36" fill="#eb4d5c"/>
<rect x="772" y="179" width="1" height="25" fill="#a9dcc3"/>
<rect x="770" y="190" width="5" height="6" fill="#53b987"/>
<rect x="779" y="175" width="1" height="17" fill="#a9dcc3"/>
<rect x="777" y="178" width="5" height="13" fill="#53b987"/>
<rect x="786" y="174" width="1" height="24" fill="#f5a6ae"/>
<rect x="784" y="178" width="5" height="12" fill="#eb4d5c"/>
<rect x="793" y="183" width="1" height="10" fill="#f5a6ae"/>
<rect x="791" y="189" width="5" height="3" fill="#eb4d5c"/>
<rect x="800" y="191" width="1" height="137" fill="#f5a6ae"/>
<rect x="798" y="191" width="5" height="79" fill="#eb4d5c"/>
<rect x="807" y="258" width="1" height="64" fill="#f5a6ae"/>
<rect x="805" y="269" width="5" height="4" fill="#eb4d5c"/>
<rect x="814" y="248" width="1" height="34" fill="#a9dcc3"/>
<rect x="812" y="272" width="5" height="1" fill="#53b987"/>
<rect x="821" y="258" width="1" height="22" fill="#a9dcc3"/>
<rect x="819" y="268" width="5" height="5" fill="#53b987"/>
<rect x="828" y="234" width="1" height="34" fill="#a9dcc3"/>
<rect x="826" y="239" width="5" height="29" fill="#53b987"/>
<rect x="835" y="239" width="1" height="39" fill="#f5a6ae"/>
<rect x="833" y="239" width="5" height="31" fill="#eb4d5c"/>
<rect x="842" y="262" width="1" height="42" fill="#f5a6ae"/>
<rect x="840" y="269" width="5" height="18" fill="#eb4d5c"/>
<rect x="849" y="280" width="1" height="25" fill="#f5a6ae"/>
<rect x="847" y="286" width="5" height="5" fill="#eb4d5c"/>
<rect x="856" y="275" width="1" height="19" fill="#a9dcc3"/>
<rect x="854" y="281" width="5" height="10" fill="#53b987"/>
<rect x="863" y="273" width="1" height="13" fill="#f5a6ae"/>
<rect x="861" y="281" width="5" height="3" fill="#eb4d5c"/>
<rect x="870" y="274" width="1" height="32" fill="#f5a6ae"/>
<rect x="868" y="283" width="5" height="12" fill="#eb4d5c"/>
<rect x="877" y="274" width="1" height="22" fill="#a9dcc3"/>
<rect x="875" y="279" width="5" height="16" fill="#53b987"/>
<rect x="884" y="272" width="1" height="12" fill="#a9dcc3"/>
<rect x="882" y="277" width="5" height="3" fill="#53b987"/>
<rect x="891" y="275" width="1" height="14" fill="#f5a6ae"/>
<rect x="889" y="277" width="5" height="11" fill="#eb4d5c"/>
<rect x="898" y="285" width="1" height="32" fill="#f5a6ae"/>
<rect x="896" y="287" width="5" height="28" fill="#eb4d5c"/>
<rect x="905" y="303" width="1" height="18" fill="#a9dcc3"/>
<rect x="903" y="309" width="5" height="6" fill="#53b987"/>
<rect x="912" y="309" width="1" height="38" fill="#f5a6ae"/>
<rect x="910" y="309" width="5" height="31" fill="#eb4d5c"/>
<rect x="919" y="336" width="1" height="41" fill="#f5a6ae"/>
<rect x="917" y="339" width="5" height="3" fill="#eb4d5c"/>
<rect x="926" y="327" width="1" height="29" fill="#a9dcc3"/>
<rect x="924" y="333" width="5" height="9" fill="#53b987"/>
<rect x="933" y="333" width="1" height="27" fill="#f5a6ae"/>
<rect x="931" y="333" width="5" height="22" fill="#eb4d5c"/>
<rect x="940" y="350" width="1" height="38" fill="#f5a6ae"/>
<rect x="938" y="354" width="5" height="32" fill="#eb4d5c"/>
<rect x="947" y="361" width="1" height="44" fill="#a9dcc3"/>
<rect x="945" y="364" width="5" height="22" fill="#53b987"/>
<rect x="953" y="346" width="1" height="31" fill="#f5a6ae"/>
<rect x="951" y="364" width="5" height="5" fill="#eb4d5c"/>
<rect x="960" y="343" width="1" height="26" fill="#a9dcc3"/>
<rect x="958" y="353" width="5" height="16" fill="#53b987"/>
<rect x="967" y="341" width="1" height="20" fill="#a9dcc3"/>
<rect x="965" y="341" width="5" height="13" fill="#53b987"/>
<rect x="974" y="333" width="1" height="18" fill="#f5a6ae"/>
<rect x="972" y="341" width="5" height="4" fill="#eb4d5c"/>
<rect x="981" y="344" width="1" height="16" fill="#f5a6ae"/>
<rect x="979" y="344" width="5" height="12" fill="#eb4d5c"/>
<rect x="986" y="337" width="5" height="19" fill="#53b987"/>
<rect x="995" y="337" width="1" height="13" fill="#f5a6ae"/>
<rect x="993" y="337" width="5" height="11" fill="#eb4d5c"/>
<rect x="1002" y="326" width="1" height="22" fill="#a9dcc3"/>
<rect x="1000" y="328" width="5" height="20" fill="#53b987"/>
<rect x="1009" y="313" width="1" height="19" fill="#a9dcc3"/>
<rect x="1007" y="316" width="5" height="13" fill="#53b987"/>
<rect x="1016" y="311" width="1" height="12" fill="#a9dcc3"/>
<rect x="1014" y="313" width="5" height="4" fill="#53b987"/>
<rect x="1023" y="292" width="1" height="23" fill="#a9dcc3"/>
<rect x="1021" y="293" width="5" height="21" fill="#53b987"/>
<rect x="1030" y="279" width="1" height="34" fill="#f5a6ae"/>
<rect x="1028" y="293" width="5" height="15" fill="#eb4d5c"/>
<rect x="1037" y="289" width="1" height="20" fill="#a9dcc3"/>
<rect x="1035" y="290" width="5" height="18" fill="#53b987"/>
<rect x="1044" y="275" width="1" height="16" fill="#a9dcc3"/>
<rect x="1042" y="287" width="5" height="4" fill="#53b987"/>
<rect x="1051" y="286" width="1" height="22" fill="#f5a6ae"/>
<rect x="1049" y="287" width="5" height="15" fill="#eb4d5c"/>
<rect x="1058" y="293" width="1" height="29" fill="#f5a6ae"/>
<rect x="1056" y="301" width="5" height="20" fill="#eb4d5c"/>
<rect x="1065" y="305" width="1" height="21" fill="#a9dcc3"/>
<rect x="1063" y="312" width="5" height="9" fill="#53b987"/>
<rect x="1072" y="305" width="1" height="25" fill="#f5a6ae"/>
<rect x="1070" y="312" width="5" height="10" fill="#eb4d5c"/>
<rect x="1079" y="320" width="1" height="15" fill="#f5a6ae"/>
<rect x="1077" y="321" width="5" height="5" fill="#eb4d5c"/>
<rect x="1086" y="307" width="1" height="24" fill="#a9dcc3"/>
<rect x="1084" y="309" width="5" height="17" fill="#53b987"/>
<rect x="1093" y="298" width="1" height="15" fill="#a9dcc3"/>
<rect x="1091" y="302" width="5" height="8" fill="#53b987"/>
<rect x="1100" y="293" width="1" height="18" fill="#f5a6ae"/>
<rect x="1098" y="302" width="5" height="9" fill="#eb4d5c"/>
<rect x="1107" y="298" width="1" height="14" fill="#a9dcc3"/>
<rect x="1105" y="299" width="5" height="12" fill="#53b987"/>
</g>
<g shape-rendering="crispEdges">
<rect x="1" y="270" width="1200" height="1" fill="#000"/>
<rect x="1" y="332" width="1200" height="1" fill="#000"/>
</g>
<line x1="1" y1="299.5" x2="1201" y2="299.5" stroke="#45b380" stroke-width="1" stroke-dasharray="2 1" shape-rendering="crispEdges"/>
<polyline fill="none" stroke="#0094ff" stroke-width="1.1" stroke-linejoin="round"  points="-0.2,555.4 6.7,565.3 13.7,541.2 20.7,534.5 27.6,503.9 34.6,513.4 41.6,525.8 48.5,505.5 55.5,504.7 62.5,509.4 69.4,520.5 76.4,542.0 83.4,525.3 90.3,516.6 97.3,512.3 104.3,503.1 111.2,508.7 118.2,521.3 125.1,521.3 132.1,501.5 139.1,526.9 146.0,511.8 153.0,520.5 160.0,517.4 166.9,528.5 173.9,529.6 180.9,523.7 187.8,504.7 194.8,513.8 201.8,519.0 208.7,530.9 215.7,578.9 222.7,561.8 229.6,545.1 236.6,564.2 243.6,574.5 250.5,518.2 257.5,525.3 264.4,502.3 271.4,502.3 278.4,541.5 285.3,529.3 292.3,517.4 299.3,517.4 306.2,539.3 313.2,538.0 320.2,514.2 327.1,538.0 334.1,595.9 341.1,616.0 348.0,639.0 355.0,578.4 362.0,574.2 368.9,529.3 375.9,507.9 382.9,527.7 389.8,522.1 396.8,510.2 403.7,505.5 410.7,513.4 417.7,511.3 424.6,524.5 431.6,513.4 438.6,503.4 445.5,504.4 452.5,505.2 459.5,503.4 466.4,565.0 473.4,552.0 480.4,530.4 487.3,534.5 494.3,520.2 501.3,510.7 508.2,504.7 515.2,502.3 522.1,511.8 529.1,541.5 536.1,569.2 543.0,577.6 550.0,551.5 557.0,547.5 563.9,558.3 570.9,559.4 577.9,546.7 584.8,519.4 591.8,519.4 598.8,526.9 605.7,539.6 612.7,578.4 619.7,581.6 626.6,606.3 633.6,596.0 640.6,621.5 647.5,623.5 654.5,582.4 661.4,589.6 668.4,606.3 675.4,601.0 682.3,639.7 689.3,606.5 696.3,614.3 703.2,584.0 710.2,569.7 717.2,538.0 724.1,505.5 731.1,507.5 738.1,523.4 745.0,552.3 752.0,557.3 759.0,562.6 765.9,621.8 772.9,612.0 779.8,592.5 786.8,627.5 793.8,642.3 800.7,625.5 807.7,628.4 814.7,628.7 821.6,624.7 828.6,598.9 835.6,621.5 842.5,637.4 849.5,638.5 856.5,627.4 863.4,624.4 870.4,637.9 877.4,620.4 884.3,614.1 891.3,623.1 898.3,661.7 905.2,652.2 912.2,664.8 919.1,632.6 926.1,619.5 933.1,642.2 940.0,673.1 947.0,623.4 954.0,628.4 960.9,608.0 967.9,592.4 974.9,596.3 981.8,608.8 988.8,577.5 995.8,577.5 1002.7,536.6 1009.7,506.4 1016.7,504.8 1023.6,502.9 1030.6,541.8 1037.6,517.2 1044.5,522.8 1051.5,549.7 1058.4,594.1 1065.4,577.2 1072.4,594.1 1079.3,610.0 1086.3,581.4 1093.3,567.2 1100.2,605.2 1107.2,571.9"/>
<polyline fill="none" stroke="#ff6a00" stroke-width="1.1" stroke-linejoin="round"  points="-0.2,570.0 6.7,565.3 13.7,554.0 20.7,547.0 27.6,526.5 34.6,517.3 41.6,514.4 48.5,514.9 55.5,512.0 62.5,506.5 69.4,511.5 76.4,524.0 83.4,529.3 90.3,528.0 97.3,518.1 104.3,510.7 111.2,508.0 118.2,511.0 125.1,517.1 132.1,514.7 139.1,516.6 146.0,513.4 153.0,519.7 160.0,516.6 166.9,522.1 173.9,525.2 180.9,527.3 187.8,519.3 194.8,514.1 201.8,512.5 208.7,521.2 215.7,542.9 222.7,557.2 229.6,561.9 236.6,557.0 243.6,561.3 250.5,552.3 257.5,539.3 264.4,515.3 271.4,510.0 278.4,515.4 285.3,524.4 292.3,529.4 299.3,521.4 306.2,524.7 313.2,531.6 320.2,530.5 327.1,530.1 334.1,549.4 341.1,583.3 348.0,617.0 355.0,611.1 362.0,597.2 368.9,560.6 375.9,537.1 382.9,521.6 389.8,519.2 396.8,520.0 403.7,512.6 410.7,509.7 417.7,510.1 424.6,516.4 431.6,516.4 438.6,513.8 445.5,507.1 452.5,504.3 459.5,504.3 466.4,524.5 473.4,540.1 480.4,549.1 487.3,539.0 494.3,528.4 501.3,521.8 508.2,511.9 515.2,505.9 522.1,506.3 529.1,518.5 536.1,540.8 543.0,562.8 550.0,566.1 557.0,558.9 563.9,552.4 570.9,555.1 577.9,554.8 584.8,541.8 591.8,528.5 598.8,521.9 605.7,528.6 612.7,548.3 619.7,566.5 626.6,588.8 633.6,594.6 640.6,607.9 647.5,613.7 654.5,609.1 661.4,598.5 668.4,592.8 675.4,599.0 682.3,615.7 689.3,615.7 696.3,620.2 703.2,601.6 710.2,589.3 717.2,563.9 724.1,537.7 731.1,517.0 738.1,512.1 745.0,527.7 752.0,544.3 759.0,557.4 765.9,580.6 772.9,598.8 779.8,608.8 786.8,610.7 793.8,620.8 800.7,631.8 807.7,632.1 814.7,627.5 821.6,627.3 828.6,617.4 835.6,615.0 842.5,619.3 849.5,632.5 856.5,634.4 863.4,630.1 870.4,629.9 877.4,627.6 884.3,624.1 891.3,619.2 898.3,633.0 905.2,645.7 912.2,659.6 919.1,649.9 926.1,639.0 933.1,631.4 940.0,644.9 947.0,646.2 954.0,641.6 960.9,619.9 967.9,609.6 974.9,598.9 981.8,599.2 988.8,594.2 995.8,587.9 1002.7,563.9 1009.7,540.2 1016.7,515.9 1023.6,504.7 1030.6,516.5 1037.6,520.6 1044.5,527.3 1051.5,529.9 1058.4,555.5 1065.4,573.7 1072.4,588.5 1079.3,593.8 1086.3,595.2 1093.3,586.2 1100.2,584.6 1107.2,581.4"/>
<rect x="1" y="536.5" width="1199" height="105" fill="#9915ff" fill-opacity="0.2"/>
<line x1="1" y1="536.5" x2="1200" y2="536.5" stroke="#5a5560" stroke-width="1" stroke-dasharray="6 5" shape-rendering="crispEdges"/>
<line x1="1" y1="641.5" x2="1200" y2="641.5" stroke="#5a5560" stroke-width="1" stroke-dasharray="6 5" shape-rendering="crispEdges"/>
<rect x="1201" y="0" width="64" height="701" fill="#fff"/>
<rect x="0" y="684" width="1265" height="17" fill="#fff"/>
<rect x="1201" y="0" width="1" height="684" fill="#555" shape-rendering="crispEdges"/>
<rect x="1" y="683" width="1201" height="1" fill="#555" shape-rendering="crispEdges"/>
<rect x="1" y="491" width="1264" height="1" fill="#555" shape-rendering="crispEdges"/>
<g font-size="11" fill="#4a4a4a" stroke="#4a4a4a" stroke-width="0.3" style="filter:grayscale(1)">
<rect x="1202" y="1" width="3" height="1" fill="#555" stroke="none" shape-rendering="crispEdges"/>
<text x="1208.3" y="5.8" textLength="57" lengthAdjust="spacingAndGlyphs">2600000.00</text>
<rect x="1202" y="43" width="3" height="1" fill="#555" stroke="none" shape-rendering="crispEdges"/>
<text x="1208.3" y="47.8" textLength="57" lengthAdjust="spacingAndGlyphs">2400000.00</text>
<rect x="1202" y="84" width="3" height="1" fill="#555" stroke="none" shape-rendering="crispEdges"/>
<text x="1208.3" y="88.8" textLength="57" lengthAdjust="spacingAndGlyphs">2200000.00</text>
<rect x="1202" y="125" width="3" height="1" fill="#555" stroke="none" shape-rendering="crispEdges"/>
<text x="1208.3" y="129.8" textLength="57" lengthAdjust="spacingAndGlyphs">2000000.00</text>
<rect x="1202" y="166" width="3" height="1" fill="#555" stroke="none" shape-rendering="crispEdges"/>
<text x="1209.1" y="170.8" textLength="57" lengthAdjust="spacingAndGlyphs">1800000.00</text>
<rect x="1202" y="208" width="3" height="1" fill="#555" stroke="none" shape-rendering="crispEdges"/>
<text x="1209.1" y="212.8" textLength="57" lengthAdjust="spacingAndGlyphs">1600000.00</text>
<rect x="1202" y="249" width="3" height="1" fill="#555" stroke="none" shape-rendering="crispEdges"/>
<text x="1209.1" y="253.8" textLength="57" lengthAdjust="spacingAndGlyphs">1400000.00</text>
<rect x="1202" y="290" width="3" height="1" fill="#555" stroke="none" shape-rendering="crispEdges"/>
<text x="1209.1" y="294.8" textLength="57" lengthAdjust="spacingAndGlyphs">1200000.00</text>
<rect x="1202" y="373" width="3" height="1" fill="#555" stroke="none" shape-rendering="crispEdges"/>
<text x="1208.3" y="377.8" textLength="51" lengthAdjust="spacingAndGlyphs">800000.00</text>
<rect x="1202" y="414" width="3" height="1" fill="#555" stroke="none" shape-rendering="crispEdges"/>
<text x="1208.3" y="418.8" textLength="51" lengthAdjust="spacingAndGlyphs">600000.00</text>
<rect x="1202" y="455" width="3" height="1" fill="#555" stroke="none" shape-rendering="crispEdges"/>
<text x="1208.3" y="459.8" textLength="51" lengthAdjust="spacingAndGlyphs">400000.00</text>
<rect x="1202" y="501" width="3" height="1" fill="#555" stroke="none" shape-rendering="crispEdges"/>
<text x="1209.1" y="505.8" textLength="45" lengthAdjust="spacingAndGlyphs">100.0000</text>
<rect x="1202" y="536" width="3" height="1" fill="#555" stroke="none" shape-rendering="crispEdges"/>
<text x="1208.3" y="540.8" textLength="39" lengthAdjust="spacingAndGlyphs">80.0000</text>
<rect x="1202" y="571" width="3" height="1" fill="#555" stroke="none" shape-rendering="crispEdges"/>
<text x="1208.3" y="575.8" textLength="39" lengthAdjust="spacingAndGlyphs">60.0000</text>
<rect x="1202" y="606" width="3" height="1" fill="#555" stroke="none" shape-rendering="crispEdges"/>
<text x="1208.3" y="610.8" textLength="39" lengthAdjust="spacingAndGlyphs">40.0000</text>
<rect x="1202" y="641" width="3" height="1" fill="#555" stroke="none" shape-rendering="crispEdges"/>
<text x="1208.3" y="645.8" textLength="39" lengthAdjust="spacingAndGlyphs">20.0000</text>
<rect x="1202" y="676" width="3" height="1" fill="#555" stroke="none" shape-rendering="crispEdges"/>
<text x="1208.3" y="680.8" textLength="33" lengthAdjust="spacingAndGlyphs">0.0000</text>
</g>
<rect x="1201" y="263" width="64" height="16" fill="#000" shape-rendering="crispEdges"/>
<rect x="1202" y="270" width="3" height="1" fill="#fff" shape-rendering="crispEdges"/>
<text x="1209.1" y="274.8" font-size="11" fill="#fff" stroke="#fff" stroke-width="0.25" textLength="57" lengthAdjust="spacingAndGlyphs" style="filter:grayscale(1)">1300000.00</text>
<rect x="1201" y="325" width="64" height="16" fill="#000" shape-rendering="crispEdges"/>
<rect x="1202" y="332" width="3" height="1" fill="#fff" shape-rendering="crispEdges"/>
<text x="1209.1" y="336.8" font-size="11" fill="#fff" stroke="#fff" stroke-width="0.25" textLength="57" lengthAdjust="spacingAndGlyphs" style="filter:grayscale(1)">1000000.00</text>
<rect x="1201" y="292" width="64" height="16" fill="#53b987" shape-rendering="crispEdges"/>
<rect x="1202" y="299" width="3" height="1" fill="#fff" shape-rendering="crispEdges"/>
<text x="1209.1" y="303.8" font-size="11" fill="#fff" stroke="#fff" stroke-width="0.25" textLength="57" lengthAdjust="spacingAndGlyphs" style="filter:grayscale(1)">1157938.00</text>
<g font-size="11" fill="#4a4a4a" stroke="#4a4a4a" stroke-width="0.25" text-anchor="middle" style="filter:grayscale(1)">
<rect x="56" y="684" width="1" height="3" fill="#555" stroke="none" shape-rendering="crispEdges"/>
<text x="56.5" y="698.3">Oct</text>
<rect x="160" y="684" width="1" height="3" fill="#555" stroke="none" shape-rendering="crispEdges"/>
<text x="160.5" y="698.3">16</text>
<rect x="272" y="684" width="1" height="3" fill="#555" stroke="none" shape-rendering="crispEdges"/>
<text x="272.5" y="698.3">Nov</text>
<rect x="355" y="684" width="1" height="3" fill="#555" stroke="none" shape-rendering="crispEdges"/>
<text x="355.5" y="698.3">13</text>
<rect x="481" y="684" width="1" height="3" fill="#555" stroke="none" shape-rendering="crispEdges"/>
<text x="481.5" y="698.3">Dec</text>
<rect x="599" y="684" width="1" height="3" fill="#555" stroke="none" shape-rendering="crispEdges"/>
<text x="599.5" y="698.3">18</text>
<rect x="697" y="684" width="1" height="3" fill="#555" stroke="none" shape-rendering="crispEdges"/>
<text x="697.5" y="698.3" font-weight="bold">2018</text>
<rect x="794" y="684" width="1" height="3" fill="#555" stroke="none" shape-rendering="crispEdges"/>
<text x="794.5" y="698.3">15</text>
<rect x="913" y="684" width="1" height="3" fill="#555" stroke="none" shape-rendering="crispEdges"/>
<text x="913.5" y="698.3">Feb</text>
<rect x="989" y="684" width="1" height="3" fill="#555" stroke="none" shape-rendering="crispEdges"/>
<text x="989.5" y="698.3">12</text>
<rect x="1108" y="684" width="1" height="3" fill="#555" stroke="none" shape-rendering="crispEdges"/>
<text x="1108.5" y="698.3" font-weight="bold">Mar</text>
<rect x="1184" y="684" width="1" height="3" fill="#555" stroke="none" shape-rendering="crispEdges"/>
<text x="1184.5" y="698.3">12</text>
</g>
<rect x="0" y="702" width="1265" height="23" fill="#e5e5e7" shape-rendering="crispEdges"/>
<rect x="0" y="724" width="1265" height="1" fill="#d8dce0" shape-rendering="crispEdges"/>
<g font-size="11" fill="#8c8c9a" stroke="#8c8c9a" stroke-width="0.2">
<text x="14.4" y="717" textLength="12.2" lengthAdjust="spacingAndGlyphs">1d</text>
<text x="53.1" y="717" textLength="12.6" lengthAdjust="spacingAndGlyphs">5d</text>
<text x="92.2" y="717" textLength="14.1" lengthAdjust="spacingAndGlyphs">1m</text>
<text x="132.8" y="717" textLength="14.1" lengthAdjust="spacingAndGlyphs">3m</text>
<text x="173.8" y="717" textLength="14.4" lengthAdjust="spacingAndGlyphs">6m</text>
<text x="215.2" y="717" textLength="22.0" lengthAdjust="spacingAndGlyphs">YTD</text>
<text x="263" y="717" textLength="12.0" lengthAdjust="spacingAndGlyphs">1y</text>
<text x="302.5" y="717" textLength="11.7" lengthAdjust="spacingAndGlyphs">5y</text>
<text x="340.8" y="717" textLength="14.0" lengthAdjust="spacingAndGlyphs">All</text>
<text x="380.6" y="717" textLength="39.5" lengthAdjust="spacingAndGlyphs">Go to...</text>
<text x="970.7" y="717" textLength="75.0" lengthAdjust="spacingAndGlyphs">19:19:49 (UTC)</text>
<text x="1072.2" y="717" textLength="17.4" lengthAdjust="spacingAndGlyphs">ext</text>
<text x="1115.8" y="717" textLength="8.1" lengthAdjust="spacingAndGlyphs">%</text>
<text x="1150.1" y="717" textLength="15.3" lengthAdjust="spacingAndGlyphs">log</text>
<text x="1192.8" y="717" textLength="23.1" lengthAdjust="spacingAndGlyphs" fill="#45b5ea" stroke="#45b5ea">auto</text>
</g>
<g fill="#b4b4b9" shape-rendering="crispEdges">
<rect x="39" y="706" width="1" height="14"/>
<rect x="78" y="706" width="1" height="14"/>
<rect x="119" y="706" width="1" height="14"/>
<rect x="160" y="706" width="1" height="14"/>
<rect x="201" y="706" width="1" height="14"/>
<rect x="249" y="706" width="1" height="14"/>
<rect x="288" y="706" width="1" height="14"/>
<rect x="327" y="706" width="1" height="14"/>
<rect x="367" y="706" width="1" height="14"/>
<rect x="1058" y="706" width="1" height="14"/>
<rect x="1102" y="706" width="1" height="14"/>
<rect x="1136" y="706" width="1" height="14"/>
<rect x="1178" y="706" width="1" height="14"/>
<rect x="1228" y="706" width="1" height="14"/>
</g>
<path d="M1254.91,711.97 L1254.91,714.03 L1253.18,714.00 L1252.67,715.25 L1253.91,716.45 L1252.45,717.91 L1251.25,716.67 L1250.00,717.18 L1250.03,718.91 L1247.97,718.91 L1248.00,717.18 L1246.75,716.67 L1245.55,717.91 L1244.09,716.45 L1245.33,715.25 L1244.82,714.00 L1243.09,714.03 L1243.09,711.97 L1244.82,712.00 L1245.33,710.75 L1244.09,709.55 L1245.55,708.09 L1246.75,709.33 L1248.00,708.82 L1247.97,707.09 L1250.03,707.09 L1250.00,708.82 L1251.25,709.33 L1252.45,708.09 L1253.91,709.55 L1252.67,710.75 L1253.18,712.00Z M1252.00,713.00 A3.0,3.0 0 1,0 1246.00,713.00 A3.0,3.0 0 1,0 1252.00,713.00Z" fill="#8e8e93" fill-rule="evenodd"/>
<rect x="6.5" y="11.5" width="12" height="12" rx="1.5" fill="none" stroke="#666" stroke-width="1"/>
<rect x="8" y="17" width="9" height="1" fill="#666" shape-rendering="crispEdges"/>
<text x="25.6" y="24.8" font-size="16" fill="#444" stroke="#444" stroke-width="0.5" textLength="51.6" lengthAdjust="spacingAndGlyphs">Bitcoin</text>
<text x="87.8" y="24.8" font-size="16" fill="#444" stroke="#444" stroke-width="0.5" text-anchor="middle">/</text>
<text x="97.4" y="24.8" font-size="16" fill="#444" stroke="#444" stroke-width="0.5" textLength="29.1" lengthAdjust="spacingAndGlyphs">Yen,</text>
<text x="135.6" y="24.8" font-size="16" fill="#444" stroke="#444" stroke-width="0.5" textLength="23.3" lengthAdjust="spacingAndGlyphs">1D,</text>
<text x="165.9" y="24.8" font-size="16" fill="#444" stroke="#444" stroke-width="0.5" textLength="66.8" lengthAdjust="spacingAndGlyphs">BITFLYER</text>
<path d="M238,17h7l-3.5,3.8z" fill="#c8c8c8"/>
<rect x="256" y="13" width="14" height="14" fill="#000" fill-opacity="0.16"/><path d="M257.4,20Q263,10.8 268.6,20Q263,29.2 257.4,20Z" fill="#fff"/><circle cx="263" cy="20" r="2.8" fill="#d0d0d0"/><circle cx="263" cy="20" r="1.3" fill="#fff"/>
<rect x="273" y="13" width="14" height="14" fill="#000" fill-opacity="0.16"/><path d="M285.22,19.09 L285.22,20.91 L283.70,20.89 L283.24,21.99 L284.34,23.05 L283.05,24.34 L281.99,23.24 L280.89,23.70 L280.91,25.22 L279.09,25.22 L279.11,23.70 L278.01,23.24 L276.95,24.34 L275.66,23.05 L276.76,21.99 L276.30,20.89 L274.78,20.91 L274.78,19.09 L276.30,19.11 L276.76,18.01 L275.66,16.95 L276.95,15.66 L278.01,16.76 L279.11,16.30 L279.09,14.78 L280.91,14.78 L280.89,16.30 L281.99,16.76 L283.05,15.66 L284.34,16.95 L283.24,18.01 L283.70,19.11Z M281.90,20.00 A1.9,1.9 0 1,0 278.10,20.00 A1.9,1.9 0 1,0 281.90,20.00Z" fill="#fff" fill-rule="evenodd"/>
<text x="300.1" y="23.5" font-size="14" fill="#555" stroke="#555" stroke-width="0.1" text-anchor="middle">O</text>
<text x="400.1" y="23.5" font-size="14" fill="#555" stroke="#555" stroke-width="0.1" text-anchor="middle">H</text>
<text x="499.2" y="23.5" font-size="14" fill="#555" stroke="#555" stroke-width="0.1" text-anchor="middle">L</text>
<text x="597.5" y="23.5" font-size="14" fill="#555" stroke="#555" stroke-width="0.1" text-anchor="middle">C</text>
<text x="309.4" y="23.5" font-size="14" fill="#53b987" stroke="#53b987" stroke-width="0.25" textLength="74.9" lengthAdjust="spacingAndGlyphs">1105885.00</text>
<text x="408.2" y="23.5" font-size="14" fill="#53b987" stroke="#53b987" stroke-width="0.25" textLength="75.8" lengthAdjust="spacingAndGlyphs">1161820.00</text>
<text x="506.6" y="23.5" font-size="14" fill="#53b987" stroke="#53b987" stroke-width="0.25" textLength="76.1" lengthAdjust="spacingAndGlyphs">1094632.00</text>
<text x="605.2" y="23.5" font-size="14" fill="#53b987" stroke="#53b987" stroke-width="0.25" textLength="76.3" lengthAdjust="spacingAndGlyphs">1157938.00</text>
<text x="6.3" y="43.6" font-size="12" fill="#555" stroke="#555" stroke-width="0.3" textLength="13.9" lengthAdjust="spacingAndGlyphs">Vol</text>
<text x="26.6" y="43.6" font-size="12" fill="#555" stroke="#555" stroke-width="0.3" textLength="18.7" lengthAdjust="spacingAndGlyphs">(20)</text>
<path d="M50.6,38h7l-3.5,3.8z" fill="#c8c8c8"/>
<rect x="68" y="34" width="14" height="14" fill="#000" fill-opacity="0.16"/><path d="M69.4,41Q75,31.8 80.6,41Q75,50.2 69.4,41Z" fill="#fff"/><circle cx="75" cy="41" r="2.8" fill="#d0d0d0"/><circle cx="75" cy="41" r="1.3" fill="#fff"/>
<rect x="85" y="34" width="14" height="14" fill="#000" fill-opacity="0.16"/><path d="M97.22,40.09 L97.22,41.91 L95.70,41.89 L95.24,42.99 L96.34,44.05 L95.05,45.34 L93.99,44.24 L92.89,44.70 L92.91,46.22 L91.09,46.22 L91.11,44.70 L90.01,44.24 L88.95,45.34 L87.66,44.05 L88.76,42.99 L88.30,41.89 L86.78,41.91 L86.78,40.09 L88.30,40.11 L88.76,39.01 L87.66,37.95 L88.95,36.66 L90.01,37.76 L91.11,37.30 L91.09,35.78 L92.91,35.78 L92.89,37.30 L93.99,37.76 L95.05,36.66 L96.34,37.95 L95.24,39.01 L95.70,40.11Z M93.90,41.00 A1.9,1.9 0 1,0 90.10,41.00 A1.9,1.9 0 1,0 93.90,41.00Z" fill="#fff" fill-rule="evenodd"/>
<rect x="102" y="34" width="14" height="14" fill="#000" fill-opacity="0.16"/><rect x="105" y="39.8" width="8" height="2.4" fill="#fff"/><rect x="107.8" y="37" width="2.4" height="8" fill="#fff"/>
<rect x="119" y="34" width="14" height="14" fill="#000" fill-opacity="0.16"/><path d="M121.8,36.8L130.2,45.2M130.2,36.8L121.8,45.2" stroke="#fff" stroke-width="1.8" fill="none"/>
<text x="141.7" y="43.6" font-size="12" fill="#53b987" stroke="#53b987" stroke-width="0.25" textLength="39.9" lengthAdjust="spacingAndGlyphs">12.967K</text>
<text x="192.3" y="43.6" font-size="12" fill="#ff9850" stroke="#ff9850" stroke-width="0.25" textLength="39.9" lengthAdjust="spacingAndGlyphs">24.271K</text>
<text x="6.3" y="64.8" font-size="12" fill="#555" stroke="#555" stroke-width="0.3" textLength="12.7" lengthAdjust="spacingAndGlyphs">BB</text>
<text x="24.8" y="64.8" font-size="12" fill="#555" stroke="#555" stroke-width="0.3" textLength="16.9" lengthAdjust="spacingAndGlyphs">(20,</text>
<text x="48" y="64.8" font-size="12" fill="#555" stroke="#555" stroke-width="0.3" textLength="25.4" lengthAdjust="spacingAndGlyphs">close,</text>
<text x="81.7" y="64.8" font-size="12" fill="#555" stroke="#555" stroke-width="0.3" textLength="12.6" lengthAdjust="spacingAndGlyphs">2)</text>
<path d="M100,59h7l-3.5,3.8z" fill="#c8c8c8"/>
<rect x="117" y="55" width="14" height="14" fill="#000" fill-opacity="0.16"/><path d="M118.4,62Q124,52.8 129.6,62Q124,71.2 118.4,62Z" fill="#fff"/><circle cx="124" cy="62" r="2.8" fill="#d0d0d0"/><circle cx="124" cy="62" r="1.3" fill="#fff"/>
<rect x="134" y="55" width="14" height="14" fill="#000" fill-opacity="0.16"/><path d="M146.22,61.09 L146.22,62.91 L144.70,62.89 L144.24,63.99 L145.34,65.05 L144.05,66.34 L142.99,65.24 L141.89,65.70 L141.91,67.22 L140.09,67.22 L140.11,65.70 L139.01,65.24 L137.95,66.34 L136.66,65.05 L137.76,63.99 L137.30,62.89 L135.78,62.91 L135.78,61.09 L137.30,61.11 L137.76,60.01 L136.66,58.95 L137.95,57.66 L139.01,58.76 L140.11,58.30 L140.09,56.78 L141.91,56.78 L141.89,58.30 L142.99,58.76 L144.05,57.66 L145.34,58.95 L144.24,60.01 L144.70,61.11Z M142.90,62.00 A1.9,1.9 0 1,0 139.10,62.00 A1.9,1.9 0 1,0 142.90,62.00Z" fill="#fff" fill-rule="evenodd"/>
<rect x="151" y="55" width="14" height="14" fill="#000" fill-opacity="0.16"/><rect x="154" y="60.8" width="8" height="2.4" fill="#fff"/><rect x="156.8" y="58" width="2.4" height="8" fill="#fff"/>
<rect x="168" y="55" width="14" height="14" fill="#000" fill-opacity="0.16"/><path d="M170.8,57.8L179.2,66.2M179.2,57.8L170.8,66.2" stroke="#fff" stroke-width="1.8" fill="none"/>
<text x="190.8" y="64.8" font-size="12" fill="#872323" stroke="#872323" stroke-width="0.25" textLength="69.5" lengthAdjust="spacingAndGlyphs">1076201.9500</text>
<text x="270.8" y="64.8" font-size="12" fill="#0d7d86" stroke="#0d7d86" stroke-width="0.25" textLength="69.2" lengthAdjust="spacingAndGlyphs">1256915.9030</text>
<text x="350.2" y="64.8" font-size="12" fill="#0d7d86" stroke="#0d7d86" stroke-width="0.25" textLength="63.8" lengthAdjust="spacingAndGlyphs">895487.9970</text>
<text x="6" y="511.8" font-size="12" fill="#555" stroke="#555" stroke-width="0.3" textLength="30.8" lengthAdjust="spacingAndGlyphs">Stoch</text>
<text x="42.8" y="511.8" font-size="12" fill="#555" stroke="#555" stroke-width="0.3" textLength="18.2" lengthAdjust="spacingAndGlyphs">(14,</text>
<text x="66.3" y="511.8" font-size="12" fill="#555" stroke="#555" stroke-width="0.3" textLength="7.5" lengthAdjust="spacingAndGlyphs">3,</text>
<text x="81.7" y="511.8" font-size="12" fill="#555" stroke="#555" stroke-width="0.3" textLength="7.9" lengthAdjust="spacingAndGlyphs">1)</text>
<path d="M94.4,505.5h7l-3.5,3.8z" fill="#c8c8c8"/>
<rect x="112" y="501" width="14" height="14" fill="#000" fill-opacity="0.16"/><path d="M113.4,508Q119,498.8 124.6,508Q119,517.2 113.4,508Z" fill="#fff"/><circle cx="119" cy="508" r="2.8" fill="#d0d0d0"/><circle cx="119" cy="508" r="1.3" fill="#fff"/>
<rect x="129" y="501" width="14" height="14" fill="#000" fill-opacity="0.16"/><path d="M141.22,507.09 L141.22,508.91 L139.70,508.89 L139.24,509.99 L140.34,511.05 L139.05,512.34 L137.99,511.24 L136.89,511.70 L136.91,513.22 L135.09,513.22 L135.11,511.70 L134.01,511.24 L132.95,512.34 L131.66,511.05 L132.76,509.99 L132.30,508.89 L130.78,508.91 L130.78,507.09 L132.30,507.11 L132.76,506.01 L131.66,504.95 L132.95,503.66 L134.01,504.76 L135.11,504.30 L135.09,502.78 L136.91,502.78 L136.89,504.30 L137.99,504.76 L139.05,503.66 L140.34,504.95 L139.24,506.01 L139.70,507.11Z M137.90,508.00 A1.9,1.9 0 1,0 134.10,508.00 A1.9,1.9 0 1,0 137.90,508.00Z" fill="#fff" fill-rule="evenodd"/>
<rect x="146" y="501" width="14" height="14" fill="#000" fill-opacity="0.16"/><rect x="149" y="506.8" width="8" height="2.4" fill="#fff"/><rect x="151.8" y="504" width="2.4" height="8" fill="#fff"/>
<rect x="163" y="501" width="14" height="14" fill="#000" fill-opacity="0.16"/><path d="M165.8,503.8L174.2,512.2M174.2,503.8L165.8,512.2" stroke="#fff" stroke-width="1.8" fill="none"/>
<text x="185.6" y="512.3" font-size="12" fill="#0094ff" stroke="#0094ff" stroke-width="0.25" textLength="38.5" lengthAdjust="spacingAndGlyphs">59.5358</text>
<text x="235.5" y="512.3" font-size="12" fill="#ff6a00" stroke="#ff6a00" stroke-width="0.25" textLength="38.6" lengthAdjust="spacingAndGlyphs">54.3612</text>
<rect x="0" y="0" width="1" height="725" fill="#d5d8dc" shape-rendering="crispEdges"/>
</svg>
</body></html>
